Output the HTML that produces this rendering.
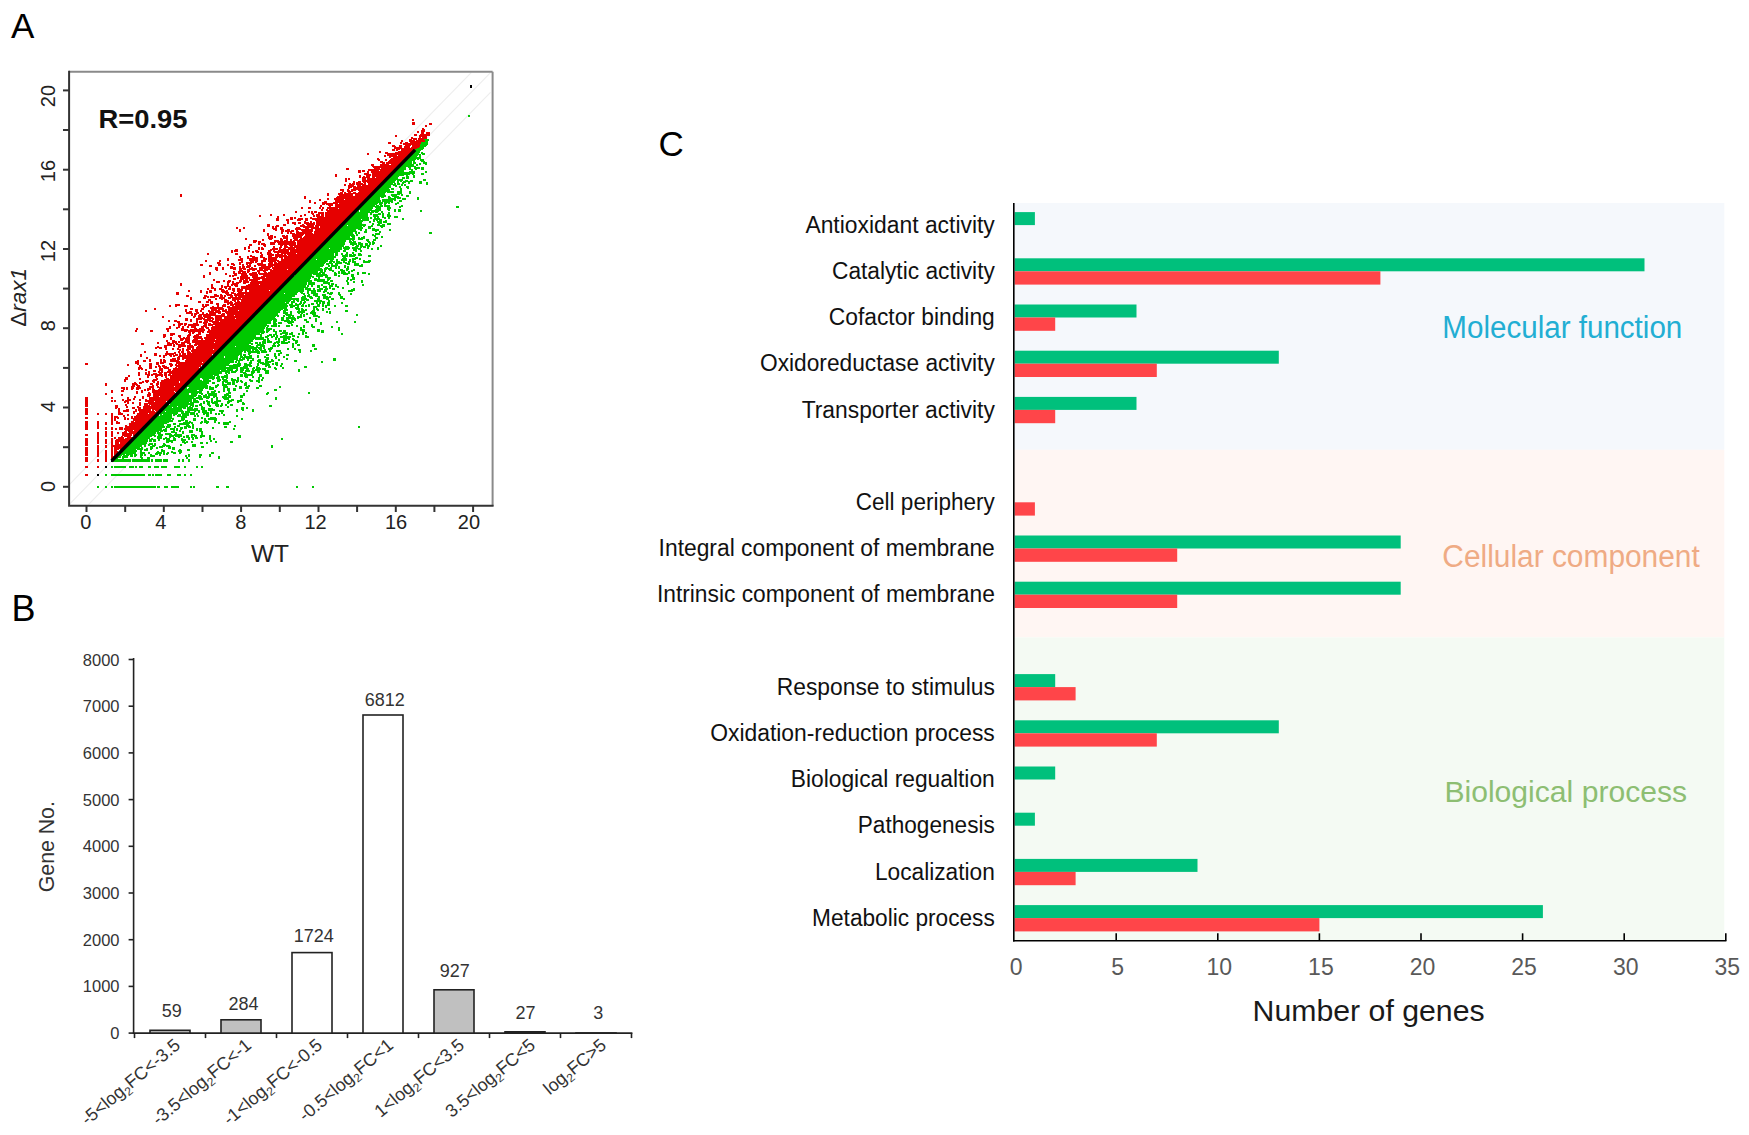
<!DOCTYPE html>
<html><head><meta charset="utf-8"><title>Figure</title>
<style>html,body{margin:0;padding:0;background:#fff;} svg{display:block;font-family:"Liberation Sans", Arial, sans-serif;}</style>
</head><body>
<svg width="1749" height="1135" viewBox="0 0 1749 1135">
<rect width="1749" height="1135" fill="#fff"/>
<rect x="1013.8" y="203" width="710.5" height="246.8" fill="#F5F8FC"/>
<rect x="1013.8" y="449.8" width="710.5" height="187.6" fill="#FFF6F3"/>
<rect x="1013.8" y="637.4" width="710.5" height="303.4" fill="#F4FAF3"/>
<rect x="1014.6" y="212.1" width="20.3" height="13.0" fill="#00C07C"/>
<text x="805.4" y="232.8" font-size="23" textLength="189.4" lengthAdjust="spacingAndGlyphs" fill="#111">Antioxidant activity</text>
<rect x="1014.6" y="258.3" width="629.9" height="13.0" fill="#00C07C"/>
<rect x="1014.6" y="271.3" width="365.8" height="13.3" fill="#FF4549"/>
<text x="832.0" y="279.0" font-size="23" textLength="162.8" lengthAdjust="spacingAndGlyphs" fill="#111">Catalytic activity</text>
<rect x="1014.6" y="304.5" width="121.9" height="13.0" fill="#00C07C"/>
<rect x="1014.6" y="317.5" width="40.6" height="13.3" fill="#FF4549"/>
<text x="828.8" y="325.2" font-size="23" textLength="166.0" lengthAdjust="spacingAndGlyphs" fill="#111">Cofactor binding</text>
<rect x="1014.6" y="350.7" width="264.2" height="13.0" fill="#00C07C"/>
<rect x="1014.6" y="363.7" width="142.2" height="13.3" fill="#FF4549"/>
<text x="760.0" y="371.4" font-size="23" textLength="234.8" lengthAdjust="spacingAndGlyphs" fill="#111">Oxidoreductase activity</text>
<rect x="1014.6" y="396.9" width="121.9" height="13.0" fill="#00C07C"/>
<rect x="1014.6" y="409.9" width="40.6" height="13.3" fill="#FF4549"/>
<text x="801.7" y="417.6" font-size="23" textLength="193.1" lengthAdjust="spacingAndGlyphs" fill="#111">Transporter activity</text>
<rect x="1014.6" y="502.3" width="20.3" height="13.3" fill="#FF4549"/>
<text x="855.8" y="510.0" font-size="23" textLength="139.0" lengthAdjust="spacingAndGlyphs" fill="#111">Cell periphery</text>
<rect x="1014.6" y="535.5" width="386.1" height="13.0" fill="#00C07C"/>
<rect x="1014.6" y="548.5" width="162.6" height="13.3" fill="#FF4549"/>
<text x="658.6" y="556.2" font-size="23" textLength="336.2" lengthAdjust="spacingAndGlyphs" fill="#111">Integral component of membrane</text>
<rect x="1014.6" y="581.7" width="386.1" height="13.0" fill="#00C07C"/>
<rect x="1014.6" y="594.7" width="162.6" height="13.3" fill="#FF4549"/>
<text x="656.9" y="602.4" font-size="23" textLength="337.9" lengthAdjust="spacingAndGlyphs" fill="#111">Intrinsic component of membrane</text>
<rect x="1014.6" y="674.1" width="40.6" height="13.0" fill="#00C07C"/>
<rect x="1014.6" y="687.1" width="61.0" height="13.3" fill="#FF4549"/>
<text x="776.8" y="694.8" font-size="23" textLength="218.0" lengthAdjust="spacingAndGlyphs" fill="#111">Response to stimulus</text>
<rect x="1014.6" y="720.3" width="264.2" height="13.0" fill="#00C07C"/>
<rect x="1014.6" y="733.3" width="142.2" height="13.3" fill="#FF4549"/>
<text x="710.2" y="741.0" font-size="23" textLength="284.6" lengthAdjust="spacingAndGlyphs" fill="#111">Oxidation-reduction process</text>
<rect x="1014.6" y="766.5" width="40.6" height="13.0" fill="#00C07C"/>
<text x="790.7" y="787.2" font-size="23" textLength="204.1" lengthAdjust="spacingAndGlyphs" fill="#111">Biological regualtion</text>
<rect x="1014.6" y="812.7" width="20.3" height="13.0" fill="#00C07C"/>
<text x="857.8" y="833.4" font-size="23" textLength="137.0" lengthAdjust="spacingAndGlyphs" fill="#111">Pathogenesis</text>
<rect x="1014.6" y="858.9" width="182.9" height="13.0" fill="#00C07C"/>
<rect x="1014.6" y="871.9" width="61.0" height="13.3" fill="#FF4549"/>
<text x="875.0" y="879.6" font-size="23" textLength="119.8" lengthAdjust="spacingAndGlyphs" fill="#111">Localization</text>
<rect x="1014.6" y="905.1" width="528.3" height="13.0" fill="#00C07C"/>
<rect x="1014.6" y="918.1" width="304.8" height="13.3" fill="#FF4549"/>
<text x="812.1" y="925.8" font-size="23" textLength="182.7" lengthAdjust="spacingAndGlyphs" fill="#111">Metabolic process</text>
<line x1="1013.8" y1="203" x2="1013.8" y2="941.5999999999999" stroke="#000" stroke-width="1.6"/>
<line x1="1013.0" y1="940.8" x2="1726.4" y2="940.8" stroke="#000" stroke-width="1.6"/>
<text x="1016.1" y="975" font-size="23" text-anchor="middle" fill="#595959">0</text>
<line x1="1116.2" y1="940.8" x2="1116.2" y2="933.3" stroke="#000" stroke-width="1.6"/>
<text x="1117.7" y="975" font-size="23" text-anchor="middle" fill="#595959">5</text>
<line x1="1217.8" y1="940.8" x2="1217.8" y2="933.3" stroke="#000" stroke-width="1.6"/>
<text x="1219.3" y="975" font-size="23" text-anchor="middle" fill="#595959">10</text>
<line x1="1319.4" y1="940.8" x2="1319.4" y2="933.3" stroke="#000" stroke-width="1.6"/>
<text x="1320.9" y="975" font-size="23" text-anchor="middle" fill="#595959">15</text>
<line x1="1421.0" y1="940.8" x2="1421.0" y2="933.3" stroke="#000" stroke-width="1.6"/>
<text x="1422.5" y="975" font-size="23" text-anchor="middle" fill="#595959">20</text>
<line x1="1522.6" y1="940.8" x2="1522.6" y2="933.3" stroke="#000" stroke-width="1.6"/>
<text x="1524.1" y="975" font-size="23" text-anchor="middle" fill="#595959">25</text>
<line x1="1624.2" y1="940.8" x2="1624.2" y2="933.3" stroke="#000" stroke-width="1.6"/>
<text x="1625.7" y="975" font-size="23" text-anchor="middle" fill="#595959">30</text>
<line x1="1725.8" y1="940.8" x2="1725.8" y2="933.3" stroke="#000" stroke-width="1.6"/>
<text x="1727.3" y="975" font-size="23" text-anchor="middle" fill="#595959">35</text>
<text x="1252.6" y="1021" font-size="29.5" textLength="232" lengthAdjust="spacingAndGlyphs" fill="#1a1a1a">Number of genes</text>
<text x="1442.3" y="337.6" font-size="31" textLength="240" lengthAdjust="spacingAndGlyphs" fill="#22AED3">Molecular function</text>
<text x="1442.3" y="567.2" font-size="31" textLength="257.5" lengthAdjust="spacingAndGlyphs" fill="#EFAB84">Cellular component</text>
<text x="1444.4" y="802.4" font-size="30" textLength="242.7" lengthAdjust="spacingAndGlyphs" fill="#8DBE72">Biological process</text>
<text x="658.5" y="156.4" font-size="35" fill="#000">C</text>
<text x="11.5" y="621.3" font-size="36" fill="#000">B</text>
<line x1="133.6" y1="658" x2="133.6" y2="1033.8999999999999" stroke="#222" stroke-width="1.6"/>
<line x1="132.79999999999998" y1="1033.1" x2="632.4" y2="1033.1" stroke="#222" stroke-width="1.6"/>
<line x1="128.6" y1="1033.1" x2="133.6" y2="1033.1" stroke="#222" stroke-width="1.6"/>
<text x="119.5" y="1039.1" font-size="16.5" text-anchor="end" fill="#333">0</text>
<line x1="128.6" y1="986.4" x2="133.6" y2="986.4" stroke="#222" stroke-width="1.6"/>
<text x="119.5" y="992.4" font-size="16.5" text-anchor="end" fill="#333">1000</text>
<line x1="128.6" y1="939.7" x2="133.6" y2="939.7" stroke="#222" stroke-width="1.6"/>
<text x="119.5" y="945.7" font-size="16.5" text-anchor="end" fill="#333">2000</text>
<line x1="128.6" y1="893.0" x2="133.6" y2="893.0" stroke="#222" stroke-width="1.6"/>
<text x="119.5" y="899.0" font-size="16.5" text-anchor="end" fill="#333">3000</text>
<line x1="128.6" y1="846.3" x2="133.6" y2="846.3" stroke="#222" stroke-width="1.6"/>
<text x="119.5" y="852.3" font-size="16.5" text-anchor="end" fill="#333">4000</text>
<line x1="128.6" y1="799.6" x2="133.6" y2="799.6" stroke="#222" stroke-width="1.6"/>
<text x="119.5" y="805.6" font-size="16.5" text-anchor="end" fill="#333">5000</text>
<line x1="128.6" y1="752.9" x2="133.6" y2="752.9" stroke="#222" stroke-width="1.6"/>
<text x="119.5" y="758.9" font-size="16.5" text-anchor="end" fill="#333">6000</text>
<line x1="128.6" y1="706.2" x2="133.6" y2="706.2" stroke="#222" stroke-width="1.6"/>
<text x="119.5" y="712.2" font-size="16.5" text-anchor="end" fill="#333">7000</text>
<line x1="128.6" y1="659.5" x2="133.6" y2="659.5" stroke="#222" stroke-width="1.6"/>
<text x="119.5" y="665.5" font-size="16.5" text-anchor="end" fill="#333">8000</text>
<line x1="134.5" y1="1033.1" x2="134.5" y2="1038.1" stroke="#222" stroke-width="1.6"/>
<line x1="205.5" y1="1033.1" x2="205.5" y2="1038.1" stroke="#222" stroke-width="1.6"/>
<line x1="276.5" y1="1033.1" x2="276.5" y2="1038.1" stroke="#222" stroke-width="1.6"/>
<line x1="347.5" y1="1033.1" x2="347.5" y2="1038.1" stroke="#222" stroke-width="1.6"/>
<line x1="418.5" y1="1033.1" x2="418.5" y2="1038.1" stroke="#222" stroke-width="1.6"/>
<line x1="489.5" y1="1033.1" x2="489.5" y2="1038.1" stroke="#222" stroke-width="1.6"/>
<line x1="560.5" y1="1033.1" x2="560.5" y2="1038.1" stroke="#222" stroke-width="1.6"/>
<line x1="631.5" y1="1033.1" x2="631.5" y2="1038.1" stroke="#222" stroke-width="1.6"/>
<rect x="150.0" y="1030.3" width="40" height="2.8" fill="#C0C0C0" stroke="#222" stroke-width="1.6"/>
<text x="171.8" y="1016.8" font-size="18" text-anchor="middle" fill="#333">59</text>
<text transform="translate(181.5,1047.1) rotate(-40)" font-size="18" text-anchor="end" fill="#333">-5&lt;log<tspan font-size='12' dy='4'>2</tspan><tspan dy='-4'>FC&lt;-3.5</tspan></text>
<rect x="221.0" y="1019.8" width="40" height="13.3" fill="#C0C0C0" stroke="#222" stroke-width="1.6"/>
<text x="243.5" y="1009.7" font-size="18" text-anchor="middle" fill="#333">284</text>
<text transform="translate(252.5,1047.1) rotate(-40)" font-size="18" text-anchor="end" fill="#333">-3.5&lt;log<tspan font-size='12' dy='4'>2</tspan><tspan dy='-4'>FC&lt;-1</tspan></text>
<rect x="292.0" y="952.6" width="40" height="80.5" fill="#FFFFFF" stroke="#222" stroke-width="1.6"/>
<text x="313.7" y="942.3" font-size="18" text-anchor="middle" fill="#333">1724</text>
<text transform="translate(323.5,1047.1) rotate(-40)" font-size="18" text-anchor="end" fill="#333">-1&lt;log<tspan font-size='12' dy='4'>2</tspan><tspan dy='-4'>FC&lt;-0.5</tspan></text>
<rect x="363.0" y="715.0" width="40" height="318.1" fill="#FFFFFF" stroke="#222" stroke-width="1.6"/>
<text x="384.7" y="705.6" font-size="18" text-anchor="middle" fill="#333">6812</text>
<text transform="translate(394.5,1047.1) rotate(-40)" font-size="18" text-anchor="end" fill="#333">-0.5&lt;log<tspan font-size='12' dy='4'>2</tspan><tspan dy='-4'>FC&lt;1</tspan></text>
<rect x="434.0" y="989.8" width="40" height="43.3" fill="#C0C0C0" stroke="#222" stroke-width="1.6"/>
<text x="454.7" y="977.2" font-size="18" text-anchor="middle" fill="#333">927</text>
<text transform="translate(465.5,1047.1) rotate(-40)" font-size="18" text-anchor="end" fill="#333">1&lt;log<tspan font-size='12' dy='4'>2</tspan><tspan dy='-4'>FC&lt;3.5</tspan></text>
<rect x="505.0" y="1031.8" width="40" height="1.3" fill="#C0C0C0" stroke="#222" stroke-width="1.6"/>
<text x="525.6" y="1018.6" font-size="18" text-anchor="middle" fill="#333">27</text>
<text transform="translate(536.5,1047.1) rotate(-40)" font-size="18" text-anchor="end" fill="#333">3.5&lt;log<tspan font-size='12' dy='4'>2</tspan><tspan dy='-4'>FC&lt;5</tspan></text>
<rect x="576.0" y="1033.0" width="40" height="0.1" fill="#C0C0C0" stroke="#222" stroke-width="1.6"/>
<text x="598.2" y="1018.6" font-size="18" text-anchor="middle" fill="#333">3</text>
<text transform="translate(607.5,1047.1) rotate(-40)" font-size="18" text-anchor="end" fill="#333">log<tspan font-size='12' dy='4'>2</tspan><tspan dy='-4'>FC&gt;5</tspan></text>
<text transform="translate(54,846.7) rotate(-90)" font-size="21.3" text-anchor="middle" fill="#333">Gene No.</text>
<text x="11" y="38.3" font-size="35" fill="#000">A</text>
<line x1="88.4" y1="504.6" x2="490.5" y2="92.4" stroke="#eeeeee" stroke-width="1.2"/>
<line x1="69.1" y1="504.6" x2="490.5" y2="72.6" stroke="#eeeeee" stroke-width="1.2"/>
<line x1="69.1" y1="484.8" x2="471.2" y2="72.6" stroke="#eeeeee" stroke-width="1.2"/>
<path fill="#E60000" d="M412 119h2v1h-2zM412 120h2v1h-2zM412 122h3v1h-3zM412 123h3v1h-3zM429 123h3v1h-3zM412 124h3v1h-3zM429 124h3v1h-3zM425 125h2v1h-2zM425 126h2v1h-2zM422 128h2v1h-2zM422 129h3v1h-3zM421 130h4v1h-4zM417 131h2v1h-2zM421 131h4v1h-4zM417 132h2v1h-2zM421 132h3v1h-3zM426 132h4v1h-4zM421 133h3v1h-3zM426 133h4v1h-4zM414 134h3v1h-3zM420 134h10v1h-10zM395 135h2v1h-2zM414 135h3v1h-3zM419 135h11v1h-11zM395 136h2v1h-2zM419 136h8v1h-8zM411 137h2v1h-2zM419 137h2v1h-2zM422 137h5v1h-5zM411 138h6v1h-6zM418 138h9v1h-9zM409 139h3v1h-3zM413 139h4v1h-4zM418 139h6v1h-6zM401 140h2v1h-2zM409 140h6v1h-6zM416 140h9v1h-9zM401 141h2v1h-2zM409 141h16v1h-16zM388 142h3v1h-3zM400 142h2v1h-2zM405 142h3v1h-3zM410 142h11v1h-11zM388 143h3v1h-3zM400 143h2v1h-2zM403 143h18v1h-18zM403 144h17v1h-17zM392 145h3v1h-3zM399 145h3v1h-3zM405 145h6v1h-6zM412 145h8v1h-8zM392 146h4v1h-4zM399 146h3v1h-3zM404 146h6v1h-6zM412 146h8v1h-8zM394 147h8v1h-8zM404 147h6v1h-6zM411 147h8v1h-8zM394 148h23v1h-23zM392 149h3v1h-3zM396 149h4v1h-4zM401 149h14v1h-14zM392 150h3v1h-3zM396 150h2v1h-2zM401 150h14v1h-14zM379 151h2v1h-2zM398 151h17v1h-17zM379 152h2v1h-2zM385 152h3v1h-3zM395 152h19v1h-19zM367 153h2v1h-2zM385 153h26v1h-26zM367 154h2v1h-2zM387 154h24v1h-24zM384 155h2v1h-2zM387 155h10v1h-10zM398 155h11v1h-11zM384 156h2v1h-2zM389 156h19v1h-19zM389 157h2v1h-2zM393 157h15v1h-15zM377 158h2v1h-2zM391 158h15v1h-15zM377 159h3v1h-3zM385 159h2v1h-2zM390 159h15v1h-15zM378 160h2v1h-2zM385 160h2v1h-2zM389 160h16v1h-16zM380 161h3v1h-3zM388 161h15v1h-15zM380 162h5v1h-5zM386 162h17v1h-17zM382 163h3v1h-3zM386 163h17v1h-17zM371 164h3v1h-3zM380 164h9v1h-9zM391 164h10v1h-10zM371 165h3v1h-3zM380 165h20v1h-20zM372 166h26v1h-26zM373 167h25v1h-25zM346 168h3v1h-3zM374 168h6v1h-6zM381 168h17v1h-17zM346 169h3v1h-3zM368 169h29v1h-29zM358 170h3v1h-3zM362 170h3v1h-3zM368 170h11v1h-11zM380 170h15v1h-15zM358 171h3v1h-3zM362 171h3v1h-3zM367 171h2v1h-2zM371 171h22v1h-22zM358 172h3v1h-3zM367 172h2v1h-2zM371 172h22v1h-22zM364 173h5v1h-5zM372 173h20v1h-20zM335 174h2v1h-2zM364 174h7v1h-7zM372 174h20v1h-20zM335 175h2v1h-2zM359 175h2v1h-2zM366 175h5v1h-5zM372 175h19v1h-19zM335 176h2v1h-2zM359 176h2v1h-2zM363 176h2v1h-2zM366 176h4v1h-4zM372 176h19v1h-19zM359 177h2v1h-2zM362 177h8v1h-8zM372 177h3v1h-3zM376 177h13v1h-13zM345 178h2v1h-2zM348 178h2v1h-2zM362 178h4v1h-4zM367 178h20v1h-20zM345 179h2v1h-2zM348 179h2v1h-2zM362 179h4v1h-4zM367 179h19v1h-19zM345 180h2v1h-2zM362 180h24v1h-24zM345 181h2v1h-2zM353 181h2v1h-2zM358 181h3v1h-3zM362 181h23v1h-23zM353 182h2v1h-2zM356 182h5v1h-5zM363 182h3v1h-3zM367 182h18v1h-18zM349 183h2v1h-2zM352 183h3v1h-3zM356 183h7v1h-7zM364 183h2v1h-2zM368 183h14v1h-14zM344 184h2v1h-2zM349 184h6v1h-6zM356 184h10v1h-10zM368 184h13v1h-13zM344 185h2v1h-2zM348 185h6v1h-6zM357 185h4v1h-4zM362 185h18v1h-18zM348 186h8v1h-8zM357 186h23v1h-23zM348 187h4v1h-4zM353 187h27v1h-27zM348 188h2v1h-2zM353 188h24v1h-24zM340 189h4v1h-4zM347 189h2v1h-2zM351 189h25v1h-25zM340 190h4v1h-4zM347 190h3v1h-3zM351 190h5v1h-5zM358 190h18v1h-18zM342 191h2v1h-2zM347 191h6v1h-6zM359 191h16v1h-16zM340 192h3v1h-3zM344 192h2v1h-2zM348 192h3v1h-3zM353 192h3v1h-3zM358 192h17v1h-17zM327 193h2v1h-2zM338 193h5v1h-5zM344 193h29v1h-29zM180 194h2v1h-2zM327 194h2v1h-2zM338 194h15v1h-15zM355 194h17v1h-17zM180 195h2v1h-2zM327 195h2v1h-2zM339 195h14v1h-14zM355 195h16v1h-16zM180 196h2v1h-2zM304 196h2v1h-2zM337 196h33v1h-33zM304 197h2v1h-2zM336 197h34v1h-34zM304 198h2v1h-2zM327 198h2v1h-2zM334 198h34v1h-34zM319 199h2v1h-2zM327 199h2v1h-2zM334 199h10v1h-10zM345 199h21v1h-21zM309 200h2v1h-2zM319 200h2v1h-2zM335 200h31v1h-31zM309 201h2v1h-2zM324 201h3v1h-3zM335 201h31v1h-31zM309 202h2v1h-2zM314 202h2v1h-2zM322 202h5v1h-5zM333 202h30v1h-30zM314 203h2v1h-2zM322 203h16v1h-16zM339 203h24v1h-24zM322 204h3v1h-3zM326 204h7v1h-7zM335 204h28v1h-28zM320 205h2v1h-2zM328 205h5v1h-5zM335 205h25v1h-25zM320 206h2v1h-2zM329 206h2v1h-2zM335 206h25v1h-25zM301 207h2v1h-2zM308 207h3v1h-3zM319 207h2v1h-2zM322 207h2v1h-2zM327 207h31v1h-31zM301 208h2v1h-2zM308 208h3v1h-3zM319 208h2v1h-2zM322 208h2v1h-2zM327 208h11v1h-11zM339 208h19v1h-19zM321 209h2v1h-2zM326 209h2v1h-2zM329 209h28v1h-28zM321 210h2v1h-2zM326 210h30v1h-30zM295 211h2v1h-2zM308 211h2v1h-2zM311 211h2v1h-2zM314 211h3v1h-3zM327 211h28v1h-28zM295 212h2v1h-2zM308 212h2v1h-2zM311 212h2v1h-2zM314 212h3v1h-3zM318 212h6v1h-6zM325 212h30v1h-30zM311 213h3v1h-3zM318 213h6v1h-6zM325 213h29v1h-29zM270 214h2v1h-2zM283 214h2v1h-2zM304 214h2v1h-2zM312 214h2v1h-2zM316 214h4v1h-4zM321 214h3v1h-3zM325 214h27v1h-27zM259 215h2v1h-2zM270 215h2v1h-2zM283 215h2v1h-2zM300 215h2v1h-2zM304 215h2v1h-2zM313 215h2v1h-2zM316 215h4v1h-4zM321 215h3v1h-3zM325 215h27v1h-27zM259 216h2v1h-2zM277 216h2v1h-2zM300 216h2v1h-2zM313 216h2v1h-2zM316 216h8v1h-8zM325 216h24v1h-24zM277 217h2v1h-2zM290 217h3v1h-3zM294 217h2v1h-2zM310 217h2v1h-2zM317 217h32v1h-32zM276 218h3v1h-3zM290 218h3v1h-3zM294 218h2v1h-2zM298 218h5v1h-5zM305 218h3v1h-3zM310 218h39v1h-39zM276 219h3v1h-3zM286 219h3v1h-3zM290 219h3v1h-3zM297 219h6v1h-6zM305 219h3v1h-3zM312 219h37v1h-37zM276 220h3v1h-3zM286 220h3v1h-3zM297 220h4v1h-4zM305 220h3v1h-3zM315 220h32v1h-32zM287 221h2v1h-2zM304 221h2v1h-2zM310 221h2v1h-2zM316 221h31v1h-31zM287 222h2v1h-2zM292 222h4v1h-4zM298 222h3v1h-3zM304 222h5v1h-5zM310 222h2v1h-2zM313 222h2v1h-2zM316 222h28v1h-28zM287 223h2v1h-2zM292 223h4v1h-4zM298 223h3v1h-3zM304 223h11v1h-11zM316 223h28v1h-28zM267 224h3v1h-3zM283 224h3v1h-3zM294 224h2v1h-2zM302 224h2v1h-2zM306 224h9v1h-9zM316 224h27v1h-27zM267 225h3v1h-3zM276 225h3v1h-3zM283 225h3v1h-3zM300 225h5v1h-5zM307 225h7v1h-7zM315 225h27v1h-27zM267 226h3v1h-3zM272 226h2v1h-2zM275 226h4v1h-4zM300 226h14v1h-14zM315 226h4v1h-4zM320 226h21v1h-21zM236 227h2v1h-2zM243 227h2v1h-2zM272 227h2v1h-2zM275 227h2v1h-2zM280 227h3v1h-3zM296 227h4v1h-4zM303 227h16v1h-16zM320 227h19v1h-19zM236 228h2v1h-2zM243 228h2v1h-2zM272 228h5v1h-5zM280 228h3v1h-3zM295 228h6v1h-6zM305 228h4v1h-4zM311 228h29v1h-29zM239 229h2v1h-2zM263 229h2v1h-2zM273 229h4v1h-4zM280 229h4v1h-4zM287 229h3v1h-3zM295 229h18v1h-18zM315 229h23v1h-23zM239 230h2v1h-2zM263 230h2v1h-2zM275 230h2v1h-2zM281 230h3v1h-3zM285 230h5v1h-5zM291 230h3v1h-3zM296 230h2v1h-2zM301 230h12v1h-12zM315 230h23v1h-23zM239 231h2v1h-2zM263 231h2v1h-2zM281 231h3v1h-3zM285 231h9v1h-9zM296 231h3v1h-3zM302 231h11v1h-11zM314 231h22v1h-22zM281 232h2v1h-2zM287 232h2v1h-2zM290 232h2v1h-2zM296 232h16v1h-16zM314 232h22v1h-22zM267 233h2v1h-2zM281 233h2v1h-2zM287 233h2v1h-2zM290 233h5v1h-5zM296 233h17v1h-17zM314 233h20v1h-20zM267 234h2v1h-2zM292 234h12v1h-12zM305 234h27v1h-27zM267 235h2v1h-2zM270 235h3v1h-3zM282 235h3v1h-3zM286 235h2v1h-2zM292 235h11v1h-11zM305 235h27v1h-27zM268 236h5v1h-5zM274 236h2v1h-2zM282 236h6v1h-6zM292 236h10v1h-10zM304 236h27v1h-27zM268 237h5v1h-5zM274 237h2v1h-2zM283 237h5v1h-5zM293 237h9v1h-9zM303 237h28v1h-28zM245 238h2v1h-2zM268 238h5v1h-5zM280 238h2v1h-2zM283 238h5v1h-5zM293 238h5v1h-5zM300 238h29v1h-29zM245 239h2v1h-2zM262 239h2v1h-2zM269 239h3v1h-3zM280 239h3v1h-3zM286 239h2v1h-2zM290 239h2v1h-2zM294 239h4v1h-4zM299 239h29v1h-29zM253 240h4v1h-4zM262 240h2v1h-2zM274 240h5v1h-5zM280 240h3v1h-3zM284 240h4v1h-4zM290 240h2v1h-2zM293 240h34v1h-34zM253 241h4v1h-4zM258 241h3v1h-3zM274 241h21v1h-21zM297 241h30v1h-30zM253 242h3v1h-3zM258 242h3v1h-3zM270 242h6v1h-6zM277 242h19v1h-19zM297 242h29v1h-29zM258 243h2v1h-2zM261 243h4v1h-4zM270 243h5v1h-5zM278 243h18v1h-18zM297 243h27v1h-27zM249 244h3v1h-3zM258 244h2v1h-2zM261 244h5v1h-5zM270 244h5v1h-5zM278 244h18v1h-18zM297 244h27v1h-27zM249 245h3v1h-3zM263 245h3v1h-3zM280 245h3v1h-3zM284 245h3v1h-3zM289 245h31v1h-31zM248 246h2v1h-2zM264 246h2v1h-2zM273 246h2v1h-2zM280 246h2v1h-2zM284 246h4v1h-4zM290 246h3v1h-3zM294 246h26v1h-26zM244 247h2v1h-2zM248 247h2v1h-2zM258 247h2v1h-2zM261 247h2v1h-2zM273 247h2v1h-2zM279 247h3v1h-3zM284 247h35v1h-35zM244 248h2v1h-2zM248 248h2v1h-2zM258 248h2v1h-2zM261 248h3v1h-3zM272 248h6v1h-6zM279 248h2v1h-2zM283 248h3v1h-3zM288 248h7v1h-7zM296 248h22v1h-22zM235 249h3v1h-3zM244 249h2v1h-2zM258 249h2v1h-2zM261 249h3v1h-3zM270 249h8v1h-8zM279 249h39v1h-39zM231 250h2v1h-2zM234 250h4v1h-4zM248 250h2v1h-2zM255 250h3v1h-3zM268 250h4v1h-4zM273 250h2v1h-2zM278 250h11v1h-11zM290 250h28v1h-28zM231 251h2v1h-2zM234 251h4v1h-4zM248 251h2v1h-2zM252 251h2v1h-2zM255 251h4v1h-4zM268 251h3v1h-3zM273 251h16v1h-16zM290 251h25v1h-25zM231 252h2v1h-2zM252 252h2v1h-2zM256 252h3v1h-3zM260 252h2v1h-2zM267 252h4v1h-4zM274 252h40v1h-40zM207 253h2v1h-2zM235 253h3v1h-3zM260 253h2v1h-2zM267 253h5v1h-5zM277 253h2v1h-2zM281 253h15v1h-15zM297 253h17v1h-17zM207 254h2v1h-2zM235 254h3v1h-3zM261 254h2v1h-2zM267 254h7v1h-7zM275 254h8v1h-8zM284 254h2v1h-2zM287 254h25v1h-25zM250 255h2v1h-2zM260 255h3v1h-3zM268 255h6v1h-6zM275 255h12v1h-12zM288 255h24v1h-24zM239 256h2v1h-2zM247 256h2v1h-2zM250 256h5v1h-5zM260 256h3v1h-3zM268 256h4v1h-4zM275 256h36v1h-36zM239 257h2v1h-2zM247 257h2v1h-2zM252 257h6v1h-6zM260 257h5v1h-5zM268 257h10v1h-10zM279 257h4v1h-4zM284 257h27v1h-27zM227 258h2v1h-2zM240 258h3v1h-3zM247 258h11v1h-11zM263 258h4v1h-4zM268 258h9v1h-9zM281 258h2v1h-2zM284 258h26v1h-26zM227 259h2v1h-2zM238 259h5v1h-5zM249 259h9v1h-9zM263 259h4v1h-4zM268 259h9v1h-9zM281 259h29v1h-29zM205 260h2v1h-2zM219 260h2v1h-2zM227 260h2v1h-2zM238 260h5v1h-5zM249 260h9v1h-9zM261 260h5v1h-5zM268 260h11v1h-11zM281 260h27v1h-27zM205 261h2v1h-2zM219 261h2v1h-2zM241 261h2v1h-2zM250 261h4v1h-4zM255 261h3v1h-3zM261 261h5v1h-5zM268 261h8v1h-8zM277 261h29v1h-29zM217 262h3v1h-3zM239 262h4v1h-4zM246 262h8v1h-8zM255 262h2v1h-2zM261 262h2v1h-2zM269 262h4v1h-4zM274 262h3v1h-3zM278 262h27v1h-27zM217 263h4v1h-4zM231 263h3v1h-3zM239 263h2v1h-2zM246 263h6v1h-6zM257 263h6v1h-6zM268 263h5v1h-5zM274 263h31v1h-31zM200 264h3v1h-3zM218 264h3v1h-3zM227 264h2v1h-2zM231 264h4v1h-4zM239 264h2v1h-2zM242 264h2v1h-2zM246 264h2v1h-2zM249 264h2v1h-2zM257 264h9v1h-9zM268 264h35v1h-35zM200 265h3v1h-3zM209 265h3v1h-3zM218 265h3v1h-3zM227 265h2v1h-2zM233 265h2v1h-2zM242 265h2v1h-2zM247 265h4v1h-4zM254 265h2v1h-2zM258 265h8v1h-8zM268 265h35v1h-35zM209 266h3v1h-3zM230 266h3v1h-3zM239 266h2v1h-2zM242 266h3v1h-3zM246 266h5v1h-5zM254 266h2v1h-2zM261 266h12v1h-12zM274 266h27v1h-27zM215 267h3v1h-3zM222 267h2v1h-2zM230 267h6v1h-6zM239 267h2v1h-2zM242 267h3v1h-3zM246 267h4v1h-4zM251 267h2v1h-2zM259 267h12v1h-12zM272 267h28v1h-28zM215 268h3v1h-3zM222 268h2v1h-2zM230 268h6v1h-6zM239 268h7v1h-7zM249 268h8v1h-8zM259 268h11v1h-11zM272 268h28v1h-28zM215 269h3v1h-3zM222 269h2v1h-2zM233 269h3v1h-3zM239 269h3v1h-3zM243 269h3v1h-3zM247 269h10v1h-10zM259 269h4v1h-4zM264 269h8v1h-8zM273 269h14v1h-14zM288 269h12v1h-12zM216 270h2v1h-2zM239 270h4v1h-4zM247 270h3v1h-3zM252 270h3v1h-3zM257 270h11v1h-11zM270 270h26v1h-26zM233 271h2v1h-2zM238 271h8v1h-8zM247 271h3v1h-3zM257 271h3v1h-3zM263 271h3v1h-3zM270 271h26v1h-26zM209 272h2v1h-2zM233 272h2v1h-2zM238 272h3v1h-3zM242 272h4v1h-4zM247 272h2v1h-2zM252 272h5v1h-5zM258 272h2v1h-2zM264 272h3v1h-3zM268 272h27v1h-27zM209 273h2v1h-2zM225 273h2v1h-2zM233 273h4v1h-4zM238 273h9v1h-9zM249 273h8v1h-8zM258 273h37v1h-37zM209 274h2v1h-2zM225 274h2v1h-2zM234 274h3v1h-3zM241 274h6v1h-6zM249 274h9v1h-9zM259 274h34v1h-34zM203 275h2v1h-2zM229 275h2v1h-2zM232 275h5v1h-5zM241 275h7v1h-7zM250 275h8v1h-8zM263 275h28v1h-28zM203 276h2v1h-2zM229 276h2v1h-2zM232 276h2v1h-2zM240 276h8v1h-8zM252 276h6v1h-6zM261 276h29v1h-29zM203 277h2v1h-2zM237 277h2v1h-2zM240 277h10v1h-10zM252 277h13v1h-13zM266 277h24v1h-24zM233 278h3v1h-3zM237 278h2v1h-2zM240 278h10v1h-10zM253 278h37v1h-37zM213 279h2v1h-2zM233 279h3v1h-3zM240 279h4v1h-4zM245 279h3v1h-3zM249 279h11v1h-11zM262 279h27v1h-27zM213 280h2v1h-2zM223 280h2v1h-2zM228 280h3v1h-3zM239 280h3v1h-3zM243 280h5v1h-5zM249 280h9v1h-9zM262 280h24v1h-24zM216 281h4v1h-4zM223 281h2v1h-2zM227 281h4v1h-4zM232 281h2v1h-2zM239 281h3v1h-3zM243 281h6v1h-6zM251 281h35v1h-35zM216 282h4v1h-4zM227 282h3v1h-3zM232 282h2v1h-2zM236 282h5v1h-5zM243 282h6v1h-6zM250 282h36v1h-36zM180 283h2v1h-2zM227 283h2v1h-2zM232 283h7v1h-7zM243 283h3v1h-3zM250 283h36v1h-36zM180 284h2v1h-2zM211 284h2v1h-2zM227 284h2v1h-2zM231 284h7v1h-7zM248 284h11v1h-11zM260 284h24v1h-24zM180 285h2v1h-2zM211 285h2v1h-2zM221 285h2v1h-2zM227 285h2v1h-2zM231 285h2v1h-2zM234 285h4v1h-4zM246 285h36v1h-36zM211 286h2v1h-2zM221 286h2v1h-2zM224 286h7v1h-7zM235 286h3v1h-3zM241 286h42v1h-42zM211 287h3v1h-3zM221 287h2v1h-2zM224 287h3v1h-3zM229 287h2v1h-2zM241 287h40v1h-40zM207 288h2v1h-2zM211 288h5v1h-5zM219 288h3v1h-3zM225 288h2v1h-2zM228 288h3v1h-3zM232 288h3v1h-3zM237 288h3v1h-3zM241 288h37v1h-37zM207 289h2v1h-2zM214 289h2v1h-2zM219 289h5v1h-5zM228 289h3v1h-3zM232 289h3v1h-3zM237 289h6v1h-6zM245 289h33v1h-33zM188 290h2v1h-2zM200 290h2v1h-2zM209 290h3v1h-3zM214 290h2v1h-2zM221 290h4v1h-4zM226 290h2v1h-2zM232 290h3v1h-3zM237 290h6v1h-6zM245 290h2v1h-2zM249 290h20v1h-20zM270 290h8v1h-8zM188 291h2v1h-2zM200 291h2v1h-2zM206 291h2v1h-2zM209 291h3v1h-3zM221 291h7v1h-7zM233 291h2v1h-2zM237 291h5v1h-5zM245 291h2v1h-2zM249 291h28v1h-28zM176 292h3v1h-3zM200 292h2v1h-2zM206 292h2v1h-2zM209 292h3v1h-3zM222 292h7v1h-7zM231 292h3v1h-3zM238 292h39v1h-39zM176 293h3v1h-3zM206 293h2v1h-2zM225 293h4v1h-4zM231 293h5v1h-5zM237 293h39v1h-39zM176 294h3v1h-3zM214 294h3v1h-3zM220 294h2v1h-2zM226 294h6v1h-6zM234 294h10v1h-10zM245 294h28v1h-28zM186 295h3v1h-3zM204 295h3v1h-3zM214 295h5v1h-5zM220 295h3v1h-3zM224 295h2v1h-2zM227 295h6v1h-6zM234 295h39v1h-39zM186 296h3v1h-3zM204 296h5v1h-5zM210 296h9v1h-9zM220 296h3v1h-3zM224 296h2v1h-2zM230 296h3v1h-3zM235 296h2v1h-2zM238 296h34v1h-34zM273 296h1v1h-1zM190 297h2v1h-2zM203 297h3v1h-3zM207 297h2v1h-2zM210 297h5v1h-5zM219 297h6v1h-6zM228 297h44v1h-44zM190 298h2v1h-2zM203 298h3v1h-3zM215 298h2v1h-2zM219 298h6v1h-6zM228 298h3v1h-3zM232 298h9v1h-9zM242 298h28v1h-28zM190 299h2v1h-2zM208 299h3v1h-3zM215 299h2v1h-2zM221 299h2v1h-2zM224 299h3v1h-3zM232 299h37v1h-37zM208 300h3v1h-3zM224 300h5v1h-5zM232 300h4v1h-4zM237 300h2v1h-2zM241 300h26v1h-26zM198 301h3v1h-3zM206 301h3v1h-3zM210 301h3v1h-3zM224 301h5v1h-5zM230 301h2v1h-2zM234 301h2v1h-2zM237 301h3v1h-3zM241 301h26v1h-26zM198 302h3v1h-3zM206 302h3v1h-3zM210 302h3v1h-3zM224 302h9v1h-9zM235 302h31v1h-31zM210 303h3v1h-3zM216 303h3v1h-3zM227 303h6v1h-6zM234 303h32v1h-32zM175 304h5v1h-5zM202 304h2v1h-2zM205 304h4v1h-4zM216 304h3v1h-3zM223 304h3v1h-3zM227 304h2v1h-2zM230 304h34v1h-34zM169 305h2v1h-2zM175 305h5v1h-5zM184 305h4v1h-4zM202 305h2v1h-2zM205 305h4v1h-4zM217 305h2v1h-2zM222 305h4v1h-4zM230 305h4v1h-4zM235 305h29v1h-29zM169 306h2v1h-2zM175 306h2v1h-2zM184 306h4v1h-4zM202 306h5v1h-5zM212 306h2v1h-2zM217 306h2v1h-2zM222 306h4v1h-4zM227 306h3v1h-3zM232 306h31v1h-31zM203 307h2v1h-2zM210 307h13v1h-13zM227 307h35v1h-35zM154 308h2v1h-2zM190 308h3v1h-3zM201 308h3v1h-3zM210 308h14v1h-14zM228 308h32v1h-32zM154 309h2v1h-2zM185 309h2v1h-2zM190 309h3v1h-3zM195 309h3v1h-3zM201 309h3v1h-3zM211 309h6v1h-6zM218 309h6v1h-6zM225 309h2v1h-2zM228 309h31v1h-31zM145 310h2v1h-2zM185 310h2v1h-2zM195 310h3v1h-3zM200 310h2v1h-2zM208 310h2v1h-2zM211 310h9v1h-9zM222 310h5v1h-5zM228 310h10v1h-10zM239 310h20v1h-20zM145 311h2v1h-2zM185 311h2v1h-2zM189 311h3v1h-3zM195 311h3v1h-3zM200 311h2v1h-2zM208 311h6v1h-6zM215 311h6v1h-6zM222 311h37v1h-37zM186 312h6v1h-6zM196 312h3v1h-3zM202 312h2v1h-2zM209 312h12v1h-12zM225 312h31v1h-31zM186 313h7v1h-7zM194 313h5v1h-5zM202 313h2v1h-2zM206 313h2v1h-2zM209 313h7v1h-7zM218 313h3v1h-3zM222 313h3v1h-3zM226 313h29v1h-29zM191 314h2v1h-2zM194 314h3v1h-3zM199 314h17v1h-17zM221 314h4v1h-4zM227 314h28v1h-28zM179 315h2v1h-2zM191 315h2v1h-2zM194 315h2v1h-2zM198 315h4v1h-4zM203 315h22v1h-22zM227 315h7v1h-7zM235 315h20v1h-20zM162 316h2v1h-2zM179 316h2v1h-2zM193 316h3v1h-3zM198 316h4v1h-4zM203 316h8v1h-8zM215 316h38v1h-38zM162 317h2v1h-2zM193 317h2v1h-2zM198 317h5v1h-5zM204 317h9v1h-9zM215 317h7v1h-7zM224 317h28v1h-28zM185 318h3v1h-3zM196 318h9v1h-9zM207 318h7v1h-7zM215 318h7v1h-7zM224 318h11v1h-11zM236 318h15v1h-15zM185 319h3v1h-3zM190 319h2v1h-2zM196 319h6v1h-6zM203 319h8v1h-8zM212 319h2v1h-2zM215 319h35v1h-35zM168 320h2v1h-2zM174 320h3v1h-3zM185 320h3v1h-3zM190 320h2v1h-2zM196 320h2v1h-2zM204 320h9v1h-9zM215 320h33v1h-33zM168 321h2v1h-2zM174 321h6v1h-6zM190 321h2v1h-2zM196 321h2v1h-2zM199 321h3v1h-3zM204 321h4v1h-4zM209 321h10v1h-10zM220 321h28v1h-28zM177 322h3v1h-3zM196 322h2v1h-2zM199 322h3v1h-3zM203 322h5v1h-5zM212 322h34v1h-34zM178 323h5v1h-5zM184 323h3v1h-3zM193 323h5v1h-5zM203 323h4v1h-4zM208 323h3v1h-3zM213 323h34v1h-34zM173 324h2v1h-2zM178 324h5v1h-5zM184 324h3v1h-3zM188 324h11v1h-11zM204 324h3v1h-3zM208 324h36v1h-36zM173 325h2v1h-2zM178 325h3v1h-3zM184 325h2v1h-2zM188 325h11v1h-11zM203 325h4v1h-4zM208 325h5v1h-5zM215 325h28v1h-28zM169 326h2v1h-2zM178 326h2v1h-2zM182 326h2v1h-2zM187 326h2v1h-2zM191 326h5v1h-5zM201 326h6v1h-6zM212 326h31v1h-31zM169 327h2v1h-2zM176 327h4v1h-4zM182 327h2v1h-2zM187 327h2v1h-2zM191 327h5v1h-5zM201 327h3v1h-3zM205 327h4v1h-4zM211 327h31v1h-31zM136 328h2v1h-2zM166 328h5v1h-5zM176 328h2v1h-2zM181 328h3v1h-3zM194 328h3v1h-3zM199 328h5v1h-5zM206 328h3v1h-3zM211 328h31v1h-31zM136 329h2v1h-2zM166 329h3v1h-3zM181 329h7v1h-7zM190 329h15v1h-15zM208 329h2v1h-2zM211 329h30v1h-30zM135 330h2v1h-2zM150 330h3v1h-3zM167 330h2v1h-2zM181 330h24v1h-24zM208 330h32v1h-32zM135 331h2v1h-2zM150 331h3v1h-3zM167 331h2v1h-2zM184 331h3v1h-3zM188 331h16v1h-16zM207 331h33v1h-33zM188 332h3v1h-3zM192 332h3v1h-3zM198 332h3v1h-3zM202 332h2v1h-2zM207 332h30v1h-30zM170 333h5v1h-5zM189 333h2v1h-2zM192 333h2v1h-2zM198 333h3v1h-3zM209 333h28v1h-28zM163 334h3v1h-3zM170 334h5v1h-5zM188 334h3v1h-3zM196 334h5v1h-5zM206 334h29v1h-29zM163 335h3v1h-3zM170 335h3v1h-3zM178 335h3v1h-3zM187 335h4v1h-4zM194 335h5v1h-5zM206 335h28v1h-28zM163 336h3v1h-3zM178 336h3v1h-3zM187 336h3v1h-3zM193 336h9v1h-9zM206 336h26v1h-26zM163 337h2v1h-2zM170 337h2v1h-2zM179 337h2v1h-2zM183 337h2v1h-2zM186 337h4v1h-4zM193 337h9v1h-9zM204 337h28v1h-28zM170 338h2v1h-2zM180 338h10v1h-10zM194 338h9v1h-9zM204 338h28v1h-28zM170 339h2v1h-2zM180 339h4v1h-4zM185 339h5v1h-5zM193 339h5v1h-5zM201 339h2v1h-2zM205 339h10v1h-10zM216 339h15v1h-15zM166 340h2v1h-2zM172 340h3v1h-3zM180 340h3v1h-3zM185 340h5v1h-5zM192 340h38v1h-38zM166 341h2v1h-2zM172 341h5v1h-5zM178 341h2v1h-2zM184 341h6v1h-6zM192 341h35v1h-35zM157 342h2v1h-2zM167 342h3v1h-3zM172 342h5v1h-5zM178 342h2v1h-2zM181 342h9v1h-9zM192 342h22v1h-22zM215 342h11v1h-11zM141 343h3v1h-3zM157 343h2v1h-2zM167 343h7v1h-7zM175 343h3v1h-3zM181 343h4v1h-4zM187 343h4v1h-4zM195 343h31v1h-31zM141 344h3v1h-3zM167 344h5v1h-5zM173 344h2v1h-2zM176 344h9v1h-9zM189 344h2v1h-2zM194 344h31v1h-31zM164 345h8v1h-8zM173 345h2v1h-2zM178 345h8v1h-8zM187 345h6v1h-6zM194 345h3v1h-3zM198 345h27v1h-27zM157 346h2v1h-2zM164 346h3v1h-3zM173 346h2v1h-2zM178 346h8v1h-8zM187 346h7v1h-7zM197 346h26v1h-26zM155 347h7v1h-7zM164 347h3v1h-3zM178 347h3v1h-3zM187 347h7v1h-7zM196 347h27v1h-27zM155 348h2v1h-2zM159 348h3v1h-3zM165 348h2v1h-2zM172 348h2v1h-2zM177 348h2v1h-2zM182 348h2v1h-2zM187 348h4v1h-4zM192 348h2v1h-2zM196 348h24v1h-24zM165 349h2v1h-2zM172 349h2v1h-2zM177 349h4v1h-4zM182 349h2v1h-2zM186 349h5v1h-5zM192 349h21v1h-21zM214 349h6v1h-6zM179 350h2v1h-2zM182 350h2v1h-2zM186 350h3v1h-3zM191 350h29v1h-29zM144 351h2v1h-2zM166 351h2v1h-2zM178 351h2v1h-2zM181 351h3v1h-3zM187 351h3v1h-3zM191 351h27v1h-27zM144 352h2v1h-2zM166 352h2v1h-2zM174 352h2v1h-2zM178 352h2v1h-2zM181 352h3v1h-3zM187 352h4v1h-4zM192 352h26v1h-26zM154 353h3v1h-3zM165 353h11v1h-11zM179 353h2v1h-2zM182 353h4v1h-4zM187 353h28v1h-28zM217 353h1v1h-1zM140 354h2v1h-2zM154 354h3v1h-3zM165 354h9v1h-9zM175 354h3v1h-3zM179 354h2v1h-2zM182 354h4v1h-4zM187 354h25v1h-25zM213 354h2v1h-2zM140 355h2v1h-2zM154 355h3v1h-3zM159 355h2v1h-2zM163 355h4v1h-4zM169 355h3v1h-3zM173 355h5v1h-5zM179 355h33v1h-33zM140 356h2v1h-2zM159 356h2v1h-2zM163 356h2v1h-2zM170 356h2v1h-2zM173 356h2v1h-2zM178 356h34v1h-34zM146 357h2v1h-2zM163 357h2v1h-2zM177 357h3v1h-3zM182 357h29v1h-29zM146 358h2v1h-2zM172 358h4v1h-4zM177 358h3v1h-3zM182 358h29v1h-29zM149 359h2v1h-2zM160 359h2v1h-2zM163 359h2v1h-2zM170 359h6v1h-6zM177 359h3v1h-3zM182 359h2v1h-2zM186 359h24v1h-24zM137 360h2v1h-2zM143 360h3v1h-3zM149 360h2v1h-2zM160 360h2v1h-2zM163 360h3v1h-3zM170 360h9v1h-9zM185 360h25v1h-25zM135 361h4v1h-4zM143 361h3v1h-3zM149 361h2v1h-2zM160 361h2v1h-2zM163 361h3v1h-3zM170 361h10v1h-10zM185 361h24v1h-24zM135 362h4v1h-4zM156 362h3v1h-3zM160 362h6v1h-6zM176 362h26v1h-26zM203 362h6v1h-6zM85 363h3v1h-3zM135 363h4v1h-4zM149 363h3v1h-3zM156 363h3v1h-3zM160 363h4v1h-4zM169 363h3v1h-3zM176 363h29v1h-29zM85 364h3v1h-3zM127 364h2v1h-2zM137 364h2v1h-2zM149 364h3v1h-3zM156 364h3v1h-3zM169 364h4v1h-4zM175 364h2v1h-2zM178 364h27v1h-27zM127 365h2v1h-2zM139 365h2v1h-2zM149 365h3v1h-3zM158 365h2v1h-2zM162 365h3v1h-3zM170 365h3v1h-3zM175 365h26v1h-26zM202 365h3v1h-3zM139 366h2v1h-2zM149 366h3v1h-3zM155 366h2v1h-2zM158 366h3v1h-3zM162 366h5v1h-5zM170 366h2v1h-2zM176 366h25v1h-25zM203 366h2v1h-2zM138 367h4v1h-4zM149 367h3v1h-3zM155 367h2v1h-2zM159 367h2v1h-2zM163 367h6v1h-6zM175 367h2v1h-2zM178 367h21v1h-21zM200 367h3v1h-3zM138 368h5v1h-5zM149 368h3v1h-3zM159 368h4v1h-4zM164 368h5v1h-5zM173 368h30v1h-30zM138 369h2v1h-2zM141 369h2v1h-2zM145 369h2v1h-2zM159 369h4v1h-4zM168 369h3v1h-3zM173 369h29v1h-29zM145 370h2v1h-2zM153 370h3v1h-3zM159 370h4v1h-4zM168 370h3v1h-3zM172 370h29v1h-29zM148 371h2v1h-2zM153 371h3v1h-3zM158 371h2v1h-2zM161 371h2v1h-2zM167 371h33v1h-33zM138 372h2v1h-2zM145 372h2v1h-2zM148 372h2v1h-2zM158 372h5v1h-5zM164 372h35v1h-35zM138 373h2v1h-2zM145 373h2v1h-2zM148 373h2v1h-2zM153 373h4v1h-4zM159 373h3v1h-3zM164 373h3v1h-3zM169 373h27v1h-27zM138 374h2v1h-2zM145 374h5v1h-5zM151 374h12v1h-12zM164 374h3v1h-3zM168 374h3v1h-3zM172 374h24v1h-24zM128 375h2v1h-2zM138 375h2v1h-2zM147 375h3v1h-3zM151 375h2v1h-2zM155 375h8v1h-8zM164 375h3v1h-3zM168 375h28v1h-28zM128 376h2v1h-2zM147 376h2v1h-2zM155 376h3v1h-3zM161 376h2v1h-2zM165 376h2v1h-2zM170 376h26v1h-26zM125 377h3v1h-3zM147 377h2v1h-2zM155 377h2v1h-2zM165 377h2v1h-2zM170 377h22v1h-22zM125 378h3v1h-3zM139 378h2v1h-2zM156 378h2v1h-2zM166 378h3v1h-3zM170 378h21v1h-21zM124 379h4v1h-4zM139 379h2v1h-2zM153 379h5v1h-5zM164 379h27v1h-27zM124 380h2v1h-2zM145 380h4v1h-4zM152 380h5v1h-5zM161 380h30v1h-30zM124 381h2v1h-2zM142 381h2v1h-2zM145 381h4v1h-4zM152 381h3v1h-3zM157 381h2v1h-2zM161 381h18v1h-18zM180 381h8v1h-8zM134 382h2v1h-2zM139 382h5v1h-5zM146 382h2v1h-2zM153 382h2v1h-2zM157 382h2v1h-2zM160 382h19v1h-19zM180 382h8v1h-8zM105 383h2v1h-2zM132 383h5v1h-5zM139 383h3v1h-3zM150 383h3v1h-3zM156 383h3v1h-3zM160 383h27v1h-27zM105 384h2v1h-2zM132 384h6v1h-6zM150 384h3v1h-3zM156 384h3v1h-3zM160 384h27v1h-27zM105 385h2v1h-2zM132 385h3v1h-3zM136 385h4v1h-4zM152 385h2v1h-2zM156 385h2v1h-2zM160 385h24v1h-24zM131 386h4v1h-4zM137 386h3v1h-3zM149 386h5v1h-5zM157 386h2v1h-2zM160 386h14v1h-14zM175 386h9v1h-9zM121 387h4v1h-4zM126 387h2v1h-2zM131 387h3v1h-3zM136 387h5v1h-5zM149 387h5v1h-5zM157 387h27v1h-27zM121 388h4v1h-4zM126 388h2v1h-2zM131 388h3v1h-3zM136 388h5v1h-5zM147 388h4v1h-4zM152 388h2v1h-2zM159 388h25v1h-25zM123 389h2v1h-2zM126 389h2v1h-2zM131 389h2v1h-2zM136 389h3v1h-3zM144 389h2v1h-2zM147 389h4v1h-4zM152 389h3v1h-3zM158 389h26v1h-26zM111 390h2v1h-2zM121 390h3v1h-3zM141 390h2v1h-2zM144 390h2v1h-2zM147 390h2v1h-2zM152 390h29v1h-29zM111 391h2v1h-2zM121 391h3v1h-3zM136 391h2v1h-2zM141 391h2v1h-2zM152 391h22v1h-22zM175 391h5v1h-5zM111 392h2v1h-2zM136 392h2v1h-2zM141 392h2v1h-2zM148 392h2v1h-2zM152 392h23v1h-23zM176 392h1v1h-1zM105 393h2v1h-2zM136 393h2v1h-2zM148 393h3v1h-3zM153 393h24v1h-24zM105 394h2v1h-2zM121 394h2v1h-2zM147 394h4v1h-4zM153 394h22v1h-22zM121 395h2v1h-2zM147 395h4v1h-4zM153 395h21v1h-21zM134 396h2v1h-2zM142 396h2v1h-2zM147 396h3v1h-3zM153 396h6v1h-6zM160 396h13v1h-13zM85 397h3v1h-3zM111 397h2v1h-2zM127 397h2v1h-2zM134 397h2v1h-2zM142 397h2v1h-2zM149 397h24v1h-24zM85 398h3v1h-3zM111 398h2v1h-2zM127 398h2v1h-2zM133 398h2v1h-2zM142 398h2v1h-2zM149 398h22v1h-22zM85 399h3v1h-3zM122 399h2v1h-2zM127 399h4v1h-4zM133 399h2v1h-2zM139 399h2v1h-2zM145 399h2v1h-2zM149 399h22v1h-22zM85 400h3v1h-3zM111 400h2v1h-2zM114 400h2v1h-2zM122 400h2v1h-2zM125 400h6v1h-6zM139 400h2v1h-2zM145 400h24v1h-24zM85 401h3v1h-3zM111 401h2v1h-2zM114 401h2v1h-2zM124 401h5v1h-5zM145 401h9v1h-9zM155 401h11v1h-11zM167 401h2v1h-2zM85 402h3v1h-3zM124 402h2v1h-2zM127 402h2v1h-2zM132 402h2v1h-2zM139 402h2v1h-2zM148 402h20v1h-20zM85 403h3v1h-3zM127 403h2v1h-2zM132 403h2v1h-2zM139 403h2v1h-2zM144 403h24v1h-24zM85 404h3v1h-3zM125 404h2v1h-2zM139 404h2v1h-2zM144 404h4v1h-4zM149 404h19v1h-19zM85 405h3v1h-3zM115 405h3v1h-3zM125 405h2v1h-2zM139 405h2v1h-2zM144 405h6v1h-6zM151 405h15v1h-15zM85 406h3v1h-3zM115 406h3v1h-3zM126 406h2v1h-2zM137 406h2v1h-2zM143 406h23v1h-23zM115 407h3v1h-3zM126 407h2v1h-2zM132 407h3v1h-3zM137 407h4v1h-4zM143 407h22v1h-22zM85 408h3v1h-3zM115 408h2v1h-2zM118 408h2v1h-2zM132 408h3v1h-3zM138 408h3v1h-3zM143 408h21v1h-21zM85 409h3v1h-3zM118 409h2v1h-2zM126 409h3v1h-3zM135 409h2v1h-2zM138 409h13v1h-13zM152 409h10v1h-10zM85 410h3v1h-3zM118 410h2v1h-2zM123 410h6v1h-6zM135 410h2v1h-2zM138 410h13v1h-13zM152 410h2v1h-2zM155 410h7v1h-7zM85 411h3v1h-3zM118 411h2v1h-2zM123 411h6v1h-6zM133 411h4v1h-4zM139 411h16v1h-16zM156 411h6v1h-6zM85 412h3v1h-3zM118 412h3v1h-3zM133 412h2v1h-2zM139 412h19v1h-19zM85 413h3v1h-3zM97 413h2v1h-2zM105 413h2v1h-2zM111 413h2v1h-2zM118 413h5v1h-5zM133 413h2v1h-2zM137 413h11v1h-11zM149 413h9v1h-9zM85 414h3v1h-3zM97 414h2v1h-2zM105 414h2v1h-2zM111 414h2v1h-2zM118 414h5v1h-5zM127 414h2v1h-2zM137 414h20v1h-20zM111 415h2v1h-2zM123 415h2v1h-2zM127 415h2v1h-2zM136 415h20v1h-20zM111 416h2v1h-2zM114 416h4v1h-4zM123 416h2v1h-2zM131 416h2v1h-2zM134 416h22v1h-22zM85 417h3v1h-3zM111 417h2v1h-2zM114 417h5v1h-5zM124 417h2v1h-2zM131 417h2v1h-2zM134 417h20v1h-20zM85 418h3v1h-3zM111 418h2v1h-2zM114 418h2v1h-2zM117 418h2v1h-2zM124 418h2v1h-2zM127 418h2v1h-2zM131 418h23v1h-23zM111 419h2v1h-2zM114 419h2v1h-2zM124 419h2v1h-2zM127 419h2v1h-2zM133 419h20v1h-20zM111 420h2v1h-2zM114 420h2v1h-2zM133 420h19v1h-19zM85 421h3v1h-3zM97 421h2v1h-2zM111 421h2v1h-2zM116 421h2v1h-2zM131 421h3v1h-3zM135 421h16v1h-16zM85 422h3v1h-3zM97 422h2v1h-2zM105 422h2v1h-2zM111 422h2v1h-2zM116 422h4v1h-4zM131 422h16v1h-16zM85 423h3v1h-3zM97 423h2v1h-2zM105 423h2v1h-2zM111 423h2v1h-2zM116 423h4v1h-4zM129 423h18v1h-18zM85 424h3v1h-3zM97 424h2v1h-2zM105 424h2v1h-2zM111 424h2v1h-2zM129 424h16v1h-16zM85 425h3v1h-3zM97 425h2v1h-2zM125 425h2v1h-2zM129 425h16v1h-16zM85 426h3v1h-3zM97 426h2v1h-2zM125 426h20v1h-20zM85 427h3v1h-3zM97 427h2v1h-2zM105 427h2v1h-2zM111 427h2v1h-2zM119 427h4v1h-4zM125 427h18v1h-18zM85 428h3v1h-3zM97 428h2v1h-2zM105 428h2v1h-2zM111 428h2v1h-2zM115 428h2v1h-2zM119 428h4v1h-4zM124 428h20v1h-20zM85 429h3v1h-3zM105 429h2v1h-2zM111 429h2v1h-2zM115 429h2v1h-2zM119 429h4v1h-4zM124 429h20v1h-20zM125 430h8v1h-8zM134 430h8v1h-8zM105 431h2v1h-2zM111 431h2v1h-2zM124 431h3v1h-3zM128 431h11v1h-11zM97 432h2v1h-2zM105 432h2v1h-2zM111 432h2v1h-2zM117 432h2v1h-2zM122 432h5v1h-5zM129 432h9v1h-9zM97 433h2v1h-2zM105 433h2v1h-2zM111 433h2v1h-2zM117 433h2v1h-2zM122 433h16v1h-16zM85 434h3v1h-3zM97 434h2v1h-2zM105 434h2v1h-2zM111 434h2v1h-2zM122 434h10v1h-10zM133 434h5v1h-5zM85 435h3v1h-3zM97 435h2v1h-2zM105 435h2v1h-2zM111 435h2v1h-2zM122 435h10v1h-10zM133 435h3v1h-3zM97 436h2v1h-2zM105 436h2v1h-2zM111 436h2v1h-2zM121 436h2v1h-2zM124 436h7v1h-7zM134 436h2v1h-2zM97 437h2v1h-2zM114 437h2v1h-2zM118 437h6v1h-6zM127 437h9v1h-9zM85 438h3v1h-3zM97 438h2v1h-2zM111 438h2v1h-2zM114 438h2v1h-2zM118 438h6v1h-6zM125 438h9v1h-9zM85 439h3v1h-3zM97 439h2v1h-2zM105 439h2v1h-2zM111 439h2v1h-2zM116 439h15v1h-15zM85 440h3v1h-3zM97 440h2v1h-2zM105 440h2v1h-2zM111 440h2v1h-2zM115 440h16v1h-16zM85 441h3v1h-3zM97 441h2v1h-2zM105 441h2v1h-2zM111 441h2v1h-2zM115 441h16v1h-16zM85 442h3v1h-3zM97 442h2v1h-2zM105 442h2v1h-2zM111 442h2v1h-2zM115 442h4v1h-4zM120 442h9v1h-9zM85 443h3v1h-3zM97 443h2v1h-2zM105 443h2v1h-2zM111 443h2v1h-2zM115 443h4v1h-4zM120 443h9v1h-9zM85 444h3v1h-3zM111 444h2v1h-2zM115 444h14v1h-14zM85 445h3v1h-3zM97 445h2v1h-2zM105 445h2v1h-2zM111 445h14v1h-14zM97 446h2v1h-2zM105 446h2v1h-2zM111 446h14v1h-14zM85 447h3v1h-3zM97 447h2v1h-2zM105 447h2v1h-2zM111 447h2v1h-2zM114 447h11v1h-11zM85 448h3v1h-3zM97 448h2v1h-2zM111 448h2v1h-2zM114 448h10v1h-10zM85 449h3v1h-3zM97 449h2v1h-2zM111 449h2v1h-2zM114 449h5v1h-5zM120 449h3v1h-3zM85 450h3v1h-3zM97 450h2v1h-2zM105 450h2v1h-2zM111 450h2v1h-2zM114 450h3v1h-3zM120 450h3v1h-3zM85 451h3v1h-3zM97 451h2v1h-2zM105 451h2v1h-2zM111 451h2v1h-2zM114 451h4v1h-4zM85 452h3v1h-3zM97 452h2v1h-2zM105 452h2v1h-2zM111 452h2v1h-2zM114 452h4v1h-4zM85 453h3v1h-3zM97 453h2v1h-2zM105 453h2v1h-2zM111 453h2v1h-2zM114 453h3v1h-3zM85 454h3v1h-3zM97 454h2v1h-2zM105 454h2v1h-2zM111 454h2v1h-2zM114 454h2v1h-2zM85 455h3v1h-3zM97 455h2v1h-2zM105 455h2v1h-2zM111 455h2v1h-2zM114 455h2v1h-2zM97 456h2v1h-2zM105 456h2v1h-2zM111 456h5v1h-5zM85 457h3v1h-3zM105 457h2v1h-2zM111 457h4v1h-4zM85 458h3v1h-3zM105 458h2v1h-2zM111 458h4v1h-4zM85 459h3v1h-3zM97 459h2v1h-2zM105 459h2v1h-2zM85 460h3v1h-3zM97 460h2v1h-2zM105 460h2v1h-2zM85 461h3v1h-3zM97 461h2v1h-2zM105 461h2v1h-2zM85 466h3v1h-3zM97 466h2v1h-2zM85 467h3v1h-3zM97 467h2v1h-2zM85 474h3v1h-3zM85 475h3v1h-3z"/>
<path fill="#00C800" d="M468 115h2v1h-2zM468 116h2v1h-2zM424 139h5v1h-5zM425 140h4v1h-4zM425 141h3v1h-3zM421 142h7v1h-7zM421 143h7v1h-7zM420 144h8v1h-8zM420 145h7v1h-7zM420 146h6v1h-6zM419 147h5v1h-5zM417 148h7v1h-7zM415 149h8v1h-8zM415 150h6v1h-6zM415 151h5v1h-5zM414 152h6v1h-6zM421 152h2v1h-2zM411 153h8v1h-8zM421 153h4v1h-4zM411 154h10v1h-10zM422 154h3v1h-3zM409 155h9v1h-9zM419 155h2v1h-2zM408 156h9v1h-9zM419 156h2v1h-2zM408 157h13v1h-13zM406 158h15v1h-15zM405 159h11v1h-11zM417 159h2v1h-2zM420 159h4v1h-4zM405 160h10v1h-10zM420 160h4v1h-4zM403 161h9v1h-9zM413 161h2v1h-2zM421 161h4v1h-4zM403 162h9v1h-9zM413 162h3v1h-3zM423 162h4v1h-4zM403 163h9v1h-9zM413 163h3v1h-3zM419 163h2v1h-2zM423 163h4v1h-4zM401 164h13v1h-13zM416 164h2v1h-2zM419 164h2v1h-2zM425 164h2v1h-2zM400 165h14v1h-14zM416 165h2v1h-2zM398 166h18v1h-18zM398 167h8v1h-8zM408 167h3v1h-3zM414 167h6v1h-6zM421 167h3v1h-3zM398 168h8v1h-8zM409 168h2v1h-2zM414 168h6v1h-6zM421 168h3v1h-3zM397 169h9v1h-9zM409 169h4v1h-4zM415 169h2v1h-2zM421 169h3v1h-3zM395 170h9v1h-9zM411 170h2v1h-2zM393 171h11v1h-11zM409 171h6v1h-6zM425 171h2v1h-2zM393 172h22v1h-22zM425 172h2v1h-2zM392 173h23v1h-23zM421 173h3v1h-3zM392 174h18v1h-18zM412 174h2v1h-2zM421 174h3v1h-3zM391 175h13v1h-13zM406 175h2v1h-2zM413 175h2v1h-2zM391 176h8v1h-8zM406 176h3v1h-3zM413 176h2v1h-2zM389 177h9v1h-9zM402 177h3v1h-3zM406 177h3v1h-3zM413 177h2v1h-2zM387 178h11v1h-11zM402 178h3v1h-3zM406 178h3v1h-3zM386 179h17v1h-17zM423 179h3v1h-3zM386 180h10v1h-10zM397 180h6v1h-6zM405 180h3v1h-3zM410 180h3v1h-3zM423 180h3v1h-3zM385 181h10v1h-10zM397 181h2v1h-2zM400 181h2v1h-2zM403 181h10v1h-10zM419 181h3v1h-3zM385 182h10v1h-10zM397 182h2v1h-2zM402 182h4v1h-4zM408 182h2v1h-2zM419 182h3v1h-3zM426 182h2v1h-2zM382 183h11v1h-11zM394 183h2v1h-2zM397 183h3v1h-3zM402 183h2v1h-2zM408 183h2v1h-2zM419 183h3v1h-3zM426 183h2v1h-2zM381 184h15v1h-15zM397 184h3v1h-3zM401 184h2v1h-2zM404 184h2v1h-2zM426 184h2v1h-2zM380 185h11v1h-11zM393 185h4v1h-4zM401 185h2v1h-2zM404 185h2v1h-2zM380 186h11v1h-11zM395 186h2v1h-2zM399 186h2v1h-2zM406 186h3v1h-3zM380 187h11v1h-11zM399 187h2v1h-2zM406 187h3v1h-3zM377 188h12v1h-12zM391 188h3v1h-3zM400 188h2v1h-2zM407 188h2v1h-2zM376 189h14v1h-14zM391 189h3v1h-3zM400 189h2v1h-2zM376 190h14v1h-14zM400 190h2v1h-2zM375 191h19v1h-19zM397 191h5v1h-5zM409 191h2v1h-2zM375 192h11v1h-11zM387 192h7v1h-7zM397 192h5v1h-5zM409 192h2v1h-2zM373 193h12v1h-12zM397 193h5v1h-5zM409 193h2v1h-2zM372 194h13v1h-13zM391 194h9v1h-9zM401 194h2v1h-2zM371 195h15v1h-15zM391 195h6v1h-6zM401 195h2v1h-2zM406 195h3v1h-3zM370 196h16v1h-16zM388 196h2v1h-2zM392 196h7v1h-7zM406 196h3v1h-3zM370 197h10v1h-10zM381 197h3v1h-3zM388 197h3v1h-3zM394 197h7v1h-7zM417 197h2v1h-2zM368 198h12v1h-12zM388 198h8v1h-8zM397 198h4v1h-4zM402 198h4v1h-4zM417 198h2v1h-2zM366 199h14v1h-14zM382 199h14v1h-14zM402 199h4v1h-4zM417 199h2v1h-2zM366 200h15v1h-15zM382 200h11v1h-11zM394 200h2v1h-2zM399 200h3v1h-3zM366 201h15v1h-15zM382 201h11v1h-11zM399 201h3v1h-3zM363 202h20v1h-20zM384 202h6v1h-6zM391 202h2v1h-2zM397 202h2v1h-2zM363 203h15v1h-15zM379 203h4v1h-4zM384 203h3v1h-3zM388 203h2v1h-2zM395 203h4v1h-4zM363 204h14v1h-14zM379 204h3v1h-3zM384 204h2v1h-2zM395 204h2v1h-2zM360 205h15v1h-15zM376 205h3v1h-3zM380 205h3v1h-3zM384 205h6v1h-6zM401 205h2v1h-2zM360 206h23v1h-23zM384 206h6v1h-6zM399 206h4v1h-4zM456 206h3v1h-3zM358 207h15v1h-15zM375 207h6v1h-6zM387 207h4v1h-4zM399 207h2v1h-2zM456 207h3v1h-3zM358 208h15v1h-15zM376 208h5v1h-5zM387 208h4v1h-4zM357 209h15v1h-15zM375 209h6v1h-6zM387 209h3v1h-3zM394 209h2v1h-2zM398 209h3v1h-3zM356 210h3v1h-3zM360 210h21v1h-21zM388 210h2v1h-2zM394 210h2v1h-2zM398 210h3v1h-3zM420 210h2v1h-2zM355 211h4v1h-4zM360 211h10v1h-10zM371 211h8v1h-8zM381 211h2v1h-2zM394 211h2v1h-2zM398 211h3v1h-3zM420 211h2v1h-2zM355 212h19v1h-19zM375 212h3v1h-3zM381 212h2v1h-2zM388 212h2v1h-2zM354 213h14v1h-14zM370 213h2v1h-2zM378 213h3v1h-3zM382 213h2v1h-2zM388 213h2v1h-2zM352 214h16v1h-16zM370 214h2v1h-2zM373 214h8v1h-8zM382 214h2v1h-2zM387 214h3v1h-3zM352 215h16v1h-16zM373 215h5v1h-5zM382 215h2v1h-2zM387 215h4v1h-4zM349 216h19v1h-19zM373 216h6v1h-6zM382 216h2v1h-2zM387 216h4v1h-4zM394 216h4v1h-4zM349 217h20v1h-20zM370 217h2v1h-2zM374 217h2v1h-2zM377 217h2v1h-2zM382 217h4v1h-4zM388 217h2v1h-2zM394 217h4v1h-4zM349 218h20v1h-20zM370 218h2v1h-2zM374 218h6v1h-6zM384 218h2v1h-2zM388 218h2v1h-2zM402 218h2v1h-2zM349 219h12v1h-12zM362 219h7v1h-7zM373 219h9v1h-9zM402 219h2v1h-2zM347 220h22v1h-22zM373 220h2v1h-2zM376 220h2v1h-2zM379 220h3v1h-3zM385 220h2v1h-2zM347 221h16v1h-16zM369 221h2v1h-2zM373 221h2v1h-2zM377 221h5v1h-5zM383 221h4v1h-4zM344 222h18v1h-18zM369 222h2v1h-2zM377 222h5v1h-5zM383 222h4v1h-4zM344 223h18v1h-18zM372 223h2v1h-2zM378 223h4v1h-4zM387 223h4v1h-4zM343 224h23v1h-23zM372 224h2v1h-2zM377 224h3v1h-3zM382 224h3v1h-3zM387 224h4v1h-4zM342 225h5v1h-5zM348 225h18v1h-18zM371 225h2v1h-2zM377 225h8v1h-8zM341 226h21v1h-21zM363 226h2v1h-2zM368 226h5v1h-5zM380 226h5v1h-5zM339 227h24v1h-24zM368 227h3v1h-3zM381 227h2v1h-2zM340 228h23v1h-23zM368 228h3v1h-3zM372 228h3v1h-3zM338 229h18v1h-18zM358 229h4v1h-4zM365 229h2v1h-2zM372 229h7v1h-7zM389 229h2v1h-2zM338 230h18v1h-18zM360 230h2v1h-2zM365 230h2v1h-2zM372 230h7v1h-7zM389 230h2v1h-2zM336 231h21v1h-21zM364 231h3v1h-3zM375 231h2v1h-2zM379 231h2v1h-2zM336 232h17v1h-17zM355 232h2v1h-2zM358 232h2v1h-2zM364 232h3v1h-3zM379 232h2v1h-2zM429 232h3v1h-3zM334 233h19v1h-19zM355 233h2v1h-2zM358 233h2v1h-2zM375 233h5v1h-5zM429 233h3v1h-3zM332 234h22v1h-22zM356 234h2v1h-2zM372 234h2v1h-2zM375 234h5v1h-5zM332 235h23v1h-23zM356 235h2v1h-2zM372 235h4v1h-4zM331 236h19v1h-19zM351 236h4v1h-4zM363 236h2v1h-2zM374 236h2v1h-2zM381 236h2v1h-2zM331 237h19v1h-19zM352 237h3v1h-3zM358 237h2v1h-2zM361 237h4v1h-4zM375 237h3v1h-3zM381 237h2v1h-2zM329 238h26v1h-26zM358 238h7v1h-7zM375 238h3v1h-3zM328 239h27v1h-27zM358 239h5v1h-5zM366 239h3v1h-3zM373 239h3v1h-3zM327 240h19v1h-19zM349 240h2v1h-2zM352 240h2v1h-2zM366 240h3v1h-3zM373 240h3v1h-3zM327 241h19v1h-19zM349 241h3v1h-3zM353 241h3v1h-3zM367 241h3v1h-3zM372 241h2v1h-2zM326 242h19v1h-19zM349 242h7v1h-7zM358 242h3v1h-3zM368 242h3v1h-3zM372 242h3v1h-3zM324 243h21v1h-21zM350 243h7v1h-7zM358 243h5v1h-5zM365 243h3v1h-3zM369 243h2v1h-2zM372 243h3v1h-3zM324 244h21v1h-21zM350 244h7v1h-7zM358 244h5v1h-5zM365 244h3v1h-3zM369 244h2v1h-2zM372 244h2v1h-2zM320 245h24v1h-24zM352 245h2v1h-2zM356 245h3v1h-3zM360 245h3v1h-3zM365 245h5v1h-5zM380 245h2v1h-2zM320 246h24v1h-24zM345 246h4v1h-4zM355 246h4v1h-4zM360 246h6v1h-6zM367 246h3v1h-3zM380 246h2v1h-2zM319 247h23v1h-23zM343 247h7v1h-7zM352 247h6v1h-6zM360 247h2v1h-2zM363 247h3v1h-3zM367 247h2v1h-2zM377 247h2v1h-2zM318 248h11v1h-11zM330 248h12v1h-12zM343 248h7v1h-7zM352 248h9v1h-9zM367 248h2v1h-2zM371 248h2v1h-2zM377 248h2v1h-2zM318 249h24v1h-24zM344 249h5v1h-5zM353 249h4v1h-4zM358 249h3v1h-3zM371 249h2v1h-2zM377 249h2v1h-2zM318 250h22v1h-22zM343 250h3v1h-3zM353 250h4v1h-4zM360 250h2v1h-2zM315 251h25v1h-25zM343 251h3v1h-3zM355 251h2v1h-2zM360 251h2v1h-2zM314 252h24v1h-24zM346 252h2v1h-2zM352 252h2v1h-2zM314 253h20v1h-20zM335 253h3v1h-3zM341 253h2v1h-2zM346 253h2v1h-2zM352 253h2v1h-2zM358 253h3v1h-3zM312 254h22v1h-22zM335 254h3v1h-3zM341 254h2v1h-2zM345 254h3v1h-3zM349 254h3v1h-3zM353 254h3v1h-3zM358 254h4v1h-4zM312 255h22v1h-22zM335 255h3v1h-3zM342 255h6v1h-6zM349 255h7v1h-7zM358 255h4v1h-4zM368 255h3v1h-3zM311 256h25v1h-25zM342 256h6v1h-6zM349 256h6v1h-6zM368 256h3v1h-3zM311 257h25v1h-25zM343 257h3v1h-3zM355 257h3v1h-3zM310 258h24v1h-24zM342 258h5v1h-5zM352 258h6v1h-6zM359 258h2v1h-2zM310 259h6v1h-6zM317 259h17v1h-17zM336 259h2v1h-2zM341 259h6v1h-6zM349 259h2v1h-2zM352 259h4v1h-4zM359 259h2v1h-2zM308 260h20v1h-20zM330 260h3v1h-3zM336 260h2v1h-2zM341 260h6v1h-6zM349 260h2v1h-2zM352 260h2v1h-2zM363 260h2v1h-2zM368 260h3v1h-3zM306 261h22v1h-22zM329 261h6v1h-6zM336 261h4v1h-4zM343 261h2v1h-2zM348 261h3v1h-3zM352 261h4v1h-4zM363 261h8v1h-8zM305 262h21v1h-21zM329 262h3v1h-3zM333 262h2v1h-2zM336 262h6v1h-6zM343 262h4v1h-4zM348 262h2v1h-2zM352 262h4v1h-4zM363 262h7v1h-7zM305 263h20v1h-20zM326 263h7v1h-7zM335 263h7v1h-7zM345 263h5v1h-5zM354 263h5v1h-5zM303 264h21v1h-21zM326 264h3v1h-3zM331 264h2v1h-2zM335 264h3v1h-3zM347 264h3v1h-3zM354 264h5v1h-5zM361 264h2v1h-2zM303 265h21v1h-21zM328 265h2v1h-2zM331 265h7v1h-7zM344 265h2v1h-2zM354 265h9v1h-9zM301 266h22v1h-22zM328 266h2v1h-2zM331 266h6v1h-6zM338 266h2v1h-2zM344 266h2v1h-2zM347 266h2v1h-2zM359 266h4v1h-4zM300 267h20v1h-20zM325 267h3v1h-3zM330 267h2v1h-2zM335 267h2v1h-2zM338 267h2v1h-2zM344 267h2v1h-2zM347 267h2v1h-2zM300 268h22v1h-22zM324 268h8v1h-8zM335 268h2v1h-2zM338 268h2v1h-2zM346 268h3v1h-3zM300 269h23v1h-23zM324 269h3v1h-3zM328 269h4v1h-4zM340 269h3v1h-3zM346 269h3v1h-3zM353 269h2v1h-2zM296 270h27v1h-27zM324 270h2v1h-2zM329 270h5v1h-5zM340 270h5v1h-5zM346 270h2v1h-2zM351 270h4v1h-4zM296 271h22v1h-22zM320 271h3v1h-3zM324 271h2v1h-2zM332 271h2v1h-2zM338 271h2v1h-2zM341 271h4v1h-4zM348 271h2v1h-2zM351 271h2v1h-2zM295 272h23v1h-23zM319 272h6v1h-6zM334 272h2v1h-2zM338 272h2v1h-2zM341 272h5v1h-5zM348 272h2v1h-2zM357 272h2v1h-2zM362 272h4v1h-4zM295 273h26v1h-26zM322 273h3v1h-3zM334 273h3v1h-3zM338 273h2v1h-2zM341 273h9v1h-9zM357 273h2v1h-2zM362 273h4v1h-4zM368 273h2v1h-2zM293 274h19v1h-19zM313 274h14v1h-14zM334 274h3v1h-3zM343 274h5v1h-5zM351 274h3v1h-3zM357 274h2v1h-2zM368 274h2v1h-2zM291 275h3v1h-3zM295 275h17v1h-17zM316 275h12v1h-12zM334 275h3v1h-3zM338 275h2v1h-2zM351 275h3v1h-3zM290 276h24v1h-24zM316 276h7v1h-7zM325 276h3v1h-3zM338 276h2v1h-2zM351 276h3v1h-3zM290 277h21v1h-21zM312 277h2v1h-2zM318 277h2v1h-2zM325 277h6v1h-6zM347 277h2v1h-2zM352 277h3v1h-3zM290 278h21v1h-21zM314 278h3v1h-3zM318 278h2v1h-2zM327 278h4v1h-4zM347 278h2v1h-2zM352 278h3v1h-3zM289 279h21v1h-21zM314 279h11v1h-11zM327 279h3v1h-3zM347 279h2v1h-2zM350 279h5v1h-5zM286 280h26v1h-26zM314 280h11v1h-11zM327 280h2v1h-2zM330 280h3v1h-3zM346 280h2v1h-2zM350 280h2v1h-2zM361 280h2v1h-2zM286 281h26v1h-26zM317 281h11v1h-11zM330 281h3v1h-3zM346 281h2v1h-2zM353 281h2v1h-2zM361 281h2v1h-2zM286 282h21v1h-21zM308 282h7v1h-7zM323 282h7v1h-7zM347 282h2v1h-2zM353 282h2v1h-2zM361 282h2v1h-2zM286 283h21v1h-21zM308 283h7v1h-7zM323 283h7v1h-7zM331 283h3v1h-3zM347 283h2v1h-2zM284 284h23v1h-23zM308 284h7v1h-7zM321 284h2v1h-2zM328 284h2v1h-2zM331 284h3v1h-3zM335 284h2v1h-2zM347 284h2v1h-2zM362 284h2v1h-2zM282 285h24v1h-24zM307 285h2v1h-2zM311 285h2v1h-2zM317 285h3v1h-3zM321 285h2v1h-2zM329 285h4v1h-4zM335 285h2v1h-2zM362 285h2v1h-2zM283 286h23v1h-23zM307 286h2v1h-2zM311 286h2v1h-2zM317 286h3v1h-3zM323 286h4v1h-4zM329 286h4v1h-4zM335 286h4v1h-4zM281 287h27v1h-27zM317 287h3v1h-3zM323 287h4v1h-4zM329 287h2v1h-2zM337 287h2v1h-2zM342 287h2v1h-2zM278 288h26v1h-26zM305 288h6v1h-6zM313 288h2v1h-2zM319 288h4v1h-4zM325 288h3v1h-3zM329 288h2v1h-2zM332 288h3v1h-3zM342 288h2v1h-2zM353 288h2v1h-2zM278 289h26v1h-26zM305 289h6v1h-6zM313 289h2v1h-2zM317 289h6v1h-6zM324 289h4v1h-4zM332 289h3v1h-3zM351 289h4v1h-4zM278 290h26v1h-26zM307 290h9v1h-9zM317 290h4v1h-4zM324 290h3v1h-3zM348 290h7v1h-7zM277 291h27v1h-27zM307 291h2v1h-2zM311 291h5v1h-5zM317 291h4v1h-4zM323 291h4v1h-4zM348 291h5v1h-5zM277 292h21v1h-21zM300 292h3v1h-3zM307 292h2v1h-2zM311 292h5v1h-5zM323 292h2v1h-2zM327 292h2v1h-2zM330 292h3v1h-3zM338 292h2v1h-2zM277 293h7v1h-7zM285 293h12v1h-12zM301 293h4v1h-4zM307 293h2v1h-2zM311 293h7v1h-7zM327 293h6v1h-6zM338 293h2v1h-2zM350 293h2v1h-2zM273 294h24v1h-24zM303 294h2v1h-2zM308 294h2v1h-2zM313 294h5v1h-5zM322 294h4v1h-4zM329 294h3v1h-3zM338 294h3v1h-3zM350 294h2v1h-2zM273 295h22v1h-22zM304 295h2v1h-2zM307 295h3v1h-3zM313 295h5v1h-5zM322 295h4v1h-4zM339 295h2v1h-2zM272 296h1v1h-1zM274 296h21v1h-21zM302 296h4v1h-4zM307 296h5v1h-5zM315 296h5v1h-5zM323 296h5v1h-5zM329 296h2v1h-2zM340 296h3v1h-3zM272 297h20v1h-20zM301 297h5v1h-5zM309 297h4v1h-4zM318 297h2v1h-2zM323 297h8v1h-8zM340 297h3v1h-3zM270 298h29v1h-29zM301 298h6v1h-6zM310 298h3v1h-3zM317 298h3v1h-3zM323 298h6v1h-6zM331 298h3v1h-3zM340 298h5v1h-5zM269 299h30v1h-30zM301 299h8v1h-8zM317 299h3v1h-3zM326 299h3v1h-3zM331 299h3v1h-3zM343 299h2v1h-2zM267 300h24v1h-24zM293 300h2v1h-2zM296 300h3v1h-3zM301 300h4v1h-4zM306 300h3v1h-3zM314 300h8v1h-8zM328 300h2v1h-2zM267 301h23v1h-23zM291 301h4v1h-4zM297 301h2v1h-2zM300 301h2v1h-2zM304 301h2v1h-2zM314 301h11v1h-11zM328 301h2v1h-2zM266 302h19v1h-19zM286 302h3v1h-3zM291 302h4v1h-4zM300 302h2v1h-2zM303 302h3v1h-3zM316 302h2v1h-2zM319 302h2v1h-2zM322 302h3v1h-3zM327 302h3v1h-3zM341 302h2v1h-2zM266 303h23v1h-23zM291 303h2v1h-2zM295 303h2v1h-2zM299 303h3v1h-3zM303 303h2v1h-2zM311 303h3v1h-3zM316 303h2v1h-2zM319 303h2v1h-2zM322 303h3v1h-3zM327 303h3v1h-3zM341 303h2v1h-2zM264 304h23v1h-23zM289 304h4v1h-4zM295 304h6v1h-6zM302 304h2v1h-2zM308 304h2v1h-2zM311 304h3v1h-3zM317 304h3v1h-3zM322 304h2v1h-2zM327 304h3v1h-3zM264 305h24v1h-24zM289 305h10v1h-10zM301 305h3v1h-3zM305 305h2v1h-2zM308 305h2v1h-2zM317 305h3v1h-3zM322 305h2v1h-2zM325 305h5v1h-5zM334 305h2v1h-2zM345 305h3v1h-3zM263 306h25v1h-25zM290 306h5v1h-5zM297 306h2v1h-2zM301 306h3v1h-3zM305 306h2v1h-2zM308 306h2v1h-2zM313 306h7v1h-7zM322 306h2v1h-2zM325 306h2v1h-2zM334 306h2v1h-2zM345 306h3v1h-3zM262 307h25v1h-25zM290 307h3v1h-3zM295 307h4v1h-4zM313 307h4v1h-4zM325 307h2v1h-2zM260 308h27v1h-27zM295 308h5v1h-5zM301 308h2v1h-2zM313 308h2v1h-2zM316 308h2v1h-2zM322 308h2v1h-2zM328 308h2v1h-2zM259 309h24v1h-24zM284 309h4v1h-4zM296 309h4v1h-4zM301 309h3v1h-3zM305 309h2v1h-2zM313 309h2v1h-2zM316 309h3v1h-3zM322 309h2v1h-2zM328 309h2v1h-2zM259 310h22v1h-22zM283 310h5v1h-5zM298 310h2v1h-2zM301 310h6v1h-6zM312 310h3v1h-3zM317 310h2v1h-2zM322 310h2v1h-2zM345 310h3v1h-3zM259 311h21v1h-21zM283 311h3v1h-3zM290 311h2v1h-2zM297 311h8v1h-8zM311 311h4v1h-4zM326 311h2v1h-2zM329 311h2v1h-2zM345 311h3v1h-3zM256 312h24v1h-24zM283 312h5v1h-5zM290 312h2v1h-2zM297 312h8v1h-8zM310 312h6v1h-6zM326 312h2v1h-2zM329 312h2v1h-2zM255 313h23v1h-23zM283 313h5v1h-5zM290 313h2v1h-2zM298 313h2v1h-2zM301 313h2v1h-2zM306 313h2v1h-2zM310 313h6v1h-6zM329 313h2v1h-2zM255 314h23v1h-23zM285 314h7v1h-7zM300 314h2v1h-2zM303 314h2v1h-2zM306 314h2v1h-2zM312 314h4v1h-4zM356 314h2v1h-2zM255 315h24v1h-24zM283 315h2v1h-2zM286 315h8v1h-8zM300 315h2v1h-2zM303 315h2v1h-2zM313 315h5v1h-5zM356 315h2v1h-2zM253 316h23v1h-23zM277 316h2v1h-2zM283 316h2v1h-2zM288 316h3v1h-3zM292 316h2v1h-2zM297 316h5v1h-5zM303 316h2v1h-2zM313 316h7v1h-7zM252 317h23v1h-23zM281 317h3v1h-3zM286 317h9v1h-9zM297 317h5v1h-5zM309 317h2v1h-2zM318 317h2v1h-2zM251 318h25v1h-25zM281 318h3v1h-3zM286 318h10v1h-10zM297 318h2v1h-2zM309 318h2v1h-2zM315 318h2v1h-2zM250 319h27v1h-27zM281 319h3v1h-3zM286 319h3v1h-3zM291 319h5v1h-5zM304 319h3v1h-3zM315 319h2v1h-2zM248 320h1v1h-1zM250 320h22v1h-22zM273 320h4v1h-4zM281 320h9v1h-9zM291 320h2v1h-2zM294 320h2v1h-2zM304 320h3v1h-3zM315 320h2v1h-2zM248 321h23v1h-23zM273 321h4v1h-4zM284 321h10v1h-10zM306 321h3v1h-3zM315 321h2v1h-2zM336 321h2v1h-2zM354 321h2v1h-2zM246 322h25v1h-25zM273 322h3v1h-3zM278 322h4v1h-4zM287 322h7v1h-7zM306 322h3v1h-3zM320 322h2v1h-2zM336 322h2v1h-2zM354 322h2v1h-2zM247 323h24v1h-24zM273 323h4v1h-4zM278 323h4v1h-4zM288 323h4v1h-4zM320 323h2v1h-2zM244 324h23v1h-23zM273 324h4v1h-4zM291 324h2v1h-2zM311 324h2v1h-2zM320 324h2v1h-2zM243 325h26v1h-26zM271 325h6v1h-6zM278 325h2v1h-2zM286 325h4v1h-4zM291 325h2v1h-2zM296 325h2v1h-2zM303 325h2v1h-2zM311 325h2v1h-2zM243 326h23v1h-23zM267 326h2v1h-2zM271 326h6v1h-6zM278 326h2v1h-2zM286 326h4v1h-4zM296 326h2v1h-2zM303 326h2v1h-2zM311 326h4v1h-4zM331 326h2v1h-2zM242 327h23v1h-23zM266 327h2v1h-2zM300 327h2v1h-2zM303 327h2v1h-2zM312 327h3v1h-3zM331 327h2v1h-2zM338 327h2v1h-2zM242 328h23v1h-23zM266 328h6v1h-6zM300 328h2v1h-2zM338 328h2v1h-2zM241 329h23v1h-23zM266 329h6v1h-6zM273 329h2v1h-2zM300 329h5v1h-5zM317 329h3v1h-3zM338 329h2v1h-2zM241 330h23v1h-23zM266 330h4v1h-4zM273 330h2v1h-2zM279 330h3v1h-3zM283 330h3v1h-3zM300 330h5v1h-5zM317 330h3v1h-3zM321 330h3v1h-3zM338 330h2v1h-2zM240 331h25v1h-25zM266 331h3v1h-3zM273 331h4v1h-4zM279 331h3v1h-3zM283 331h3v1h-3zM302 331h3v1h-3zM317 331h3v1h-3zM321 331h3v1h-3zM237 332h28v1h-28zM266 332h2v1h-2zM275 332h2v1h-2zM282 332h6v1h-6zM291 332h2v1h-2zM302 332h2v1h-2zM305 332h2v1h-2zM321 332h3v1h-3zM237 333h23v1h-23zM261 333h3v1h-3zM275 333h2v1h-2zM280 333h8v1h-8zM289 333h4v1h-4zM298 333h2v1h-2zM302 333h2v1h-2zM305 333h2v1h-2zM341 333h2v1h-2zM235 334h27v1h-27zM269 334h3v1h-3zM273 334h4v1h-4zM280 334h2v1h-2zM285 334h3v1h-3zM289 334h4v1h-4zM298 334h2v1h-2zM302 334h2v1h-2zM341 334h2v1h-2zM234 335h22v1h-22zM260 335h2v1h-2zM267 335h5v1h-5zM273 335h2v1h-2zM276 335h2v1h-2zM283 335h4v1h-4zM292 335h3v1h-3zM305 335h2v1h-2zM232 336h24v1h-24zM260 336h2v1h-2zM265 336h4v1h-4zM271 336h4v1h-4zM276 336h2v1h-2zM280 336h11v1h-11zM292 336h3v1h-3zM297 336h2v1h-2zM305 336h4v1h-4zM232 337h32v1h-32zM265 337h3v1h-3zM271 337h2v1h-2zM275 337h3v1h-3zM280 337h11v1h-11zM297 337h2v1h-2zM305 337h4v1h-4zM232 338h32v1h-32zM267 338h2v1h-2zM275 338h2v1h-2zM278 338h2v1h-2zM283 338h7v1h-7zM292 338h2v1h-2zM231 339h23v1h-23zM255 339h11v1h-11zM267 339h2v1h-2zM275 339h2v1h-2zM278 339h2v1h-2zM283 339h4v1h-4zM288 339h2v1h-2zM292 339h3v1h-3zM230 340h23v1h-23zM263 340h3v1h-3zM267 340h3v1h-3zM278 340h2v1h-2zM283 340h4v1h-4zM293 340h5v1h-5zM227 341h26v1h-26zM262 341h4v1h-4zM267 341h5v1h-5zM276 341h4v1h-4zM281 341h4v1h-4zM288 341h2v1h-2zM295 341h3v1h-3zM226 342h25v1h-25zM255 342h3v1h-3zM259 342h2v1h-2zM262 342h4v1h-4zM267 342h5v1h-5zM274 342h6v1h-6zM281 342h9v1h-9zM295 342h3v1h-3zM226 343h27v1h-27zM255 343h3v1h-3zM259 343h2v1h-2zM262 343h4v1h-4zM273 343h3v1h-3zM277 343h2v1h-2zM281 343h7v1h-7zM292 343h2v1h-2zM295 343h2v1h-2zM225 344h24v1h-24zM251 344h2v1h-2zM257 344h7v1h-7zM273 344h2v1h-2zM278 344h2v1h-2zM292 344h2v1h-2zM297 344h3v1h-3zM312 344h3v1h-3zM225 345h26v1h-26zM256 345h9v1h-9zM272 345h4v1h-4zM277 345h3v1h-3zM292 345h2v1h-2zM297 345h3v1h-3zM312 345h3v1h-3zM223 346h12v1h-12zM236 346h18v1h-18zM256 346h2v1h-2zM260 346h5v1h-5zM272 346h4v1h-4zM277 346h2v1h-2zM292 346h2v1h-2zM312 346h3v1h-3zM223 347h39v1h-39zM263 347h2v1h-2zM270 347h3v1h-3zM292 347h2v1h-2zM220 348h37v1h-37zM258 348h4v1h-4zM263 348h2v1h-2zM268 348h5v1h-5zM287 348h2v1h-2zM294 348h2v1h-2zM314 348h3v1h-3zM220 349h31v1h-31zM252 349h6v1h-6zM259 349h3v1h-3zM264 349h2v1h-2zM268 349h4v1h-4zM287 349h2v1h-2zM294 349h2v1h-2zM298 349h3v1h-3zM314 349h3v1h-3zM220 350h31v1h-31zM252 350h2v1h-2zM255 350h4v1h-4zM260 350h6v1h-6zM269 350h2v1h-2zM276 350h5v1h-5zM298 350h3v1h-3zM310 350h2v1h-2zM219 351h24v1h-24zM244 351h2v1h-2zM247 351h13v1h-13zM261 351h6v1h-6zM269 351h2v1h-2zM276 351h5v1h-5zM299 351h2v1h-2zM310 351h2v1h-2zM218 352h24v1h-24zM244 352h2v1h-2zM248 352h12v1h-12zM261 352h6v1h-6zM280 352h2v1h-2zM299 352h2v1h-2zM215 353h2v1h-2zM218 353h24v1h-24zM248 353h3v1h-3zM257 353h3v1h-3zM274 353h2v1h-2zM278 353h4v1h-4zM215 354h27v1h-27zM243 354h3v1h-3zM248 354h2v1h-2zM266 354h3v1h-3zM274 354h2v1h-2zM278 354h2v1h-2zM286 354h3v1h-3zM213 355h26v1h-26zM240 355h2v1h-2zM243 355h3v1h-3zM249 355h3v1h-3zM257 355h2v1h-2zM266 355h3v1h-3zM274 355h2v1h-2zM278 355h2v1h-2zM286 355h3v1h-3zM213 356h11v1h-11zM225 356h13v1h-13zM240 356h3v1h-3zM244 356h8v1h-8zM257 356h2v1h-2zM264 356h2v1h-2zM274 356h3v1h-3zM283 356h2v1h-2zM211 357h13v1h-13zM225 357h13v1h-13zM240 357h12v1h-12zM257 357h2v1h-2zM264 357h5v1h-5zM275 357h2v1h-2zM283 357h2v1h-2zM211 358h27v1h-27zM239 358h2v1h-2zM242 358h3v1h-3zM246 358h8v1h-8zM266 358h3v1h-3zM275 358h2v1h-2zM286 358h2v1h-2zM333 358h3v1h-3zM210 359h28v1h-28zM239 359h6v1h-6zM247 359h2v1h-2zM252 359h2v1h-2zM258 359h3v1h-3zM265 359h4v1h-4zM271 359h2v1h-2zM278 359h2v1h-2zM286 359h2v1h-2zM333 359h3v1h-3zM210 360h24v1h-24zM236 360h7v1h-7zM247 360h2v1h-2zM250 360h4v1h-4zM257 360h4v1h-4zM265 360h3v1h-3zM271 360h3v1h-3zM278 360h2v1h-2zM294 360h3v1h-3zM333 360h3v1h-3zM209 361h25v1h-25zM235 361h2v1h-2zM238 361h2v1h-2zM250 361h2v1h-2zM257 361h4v1h-4zM265 361h9v1h-9zM294 361h3v1h-3zM321 361h2v1h-2zM209 362h25v1h-25zM235 362h2v1h-2zM238 362h2v1h-2zM249 362h3v1h-3zM258 362h6v1h-6zM265 362h6v1h-6zM275 362h3v1h-3zM321 362h2v1h-2zM205 363h25v1h-25zM237 363h4v1h-4zM244 363h3v1h-3zM249 363h3v1h-3zM257 363h2v1h-2zM260 363h9v1h-9zM272 363h2v1h-2zM275 363h3v1h-3zM281 363h2v1h-2zM205 364h24v1h-24zM233 364h8v1h-8zM244 364h7v1h-7zM257 364h2v1h-2zM262 364h8v1h-8zM272 364h2v1h-2zM275 364h3v1h-3zM281 364h2v1h-2zM205 365h36v1h-36zM244 365h8v1h-8zM257 365h2v1h-2zM265 365h5v1h-5zM276 365h2v1h-2zM280 365h2v1h-2zM205 366h21v1h-21zM229 366h11v1h-11zM243 366h5v1h-5zM249 366h3v1h-3zM256 366h2v1h-2zM265 366h2v1h-2zM268 366h3v1h-3zM280 366h2v1h-2zM304 366h3v1h-3zM204 367h34v1h-34zM240 367h8v1h-8zM253 367h2v1h-2zM256 367h4v1h-4zM268 367h3v1h-3zM274 367h2v1h-2zM282 367h2v1h-2zM304 367h3v1h-3zM203 368h35v1h-35zM240 368h9v1h-9zM252 368h3v1h-3zM256 368h5v1h-5zM262 368h4v1h-4zM274 368h3v1h-3zM282 368h2v1h-2zM202 369h24v1h-24zM227 369h6v1h-6zM236 369h2v1h-2zM240 369h4v1h-4zM246 369h3v1h-3zM252 369h2v1h-2zM255 369h6v1h-6zM262 369h4v1h-4zM275 369h2v1h-2zM298 369h2v1h-2zM201 370h19v1h-19zM221 370h12v1h-12zM235 370h3v1h-3zM240 370h4v1h-4zM245 370h5v1h-5zM252 370h8v1h-8zM264 370h5v1h-5zM298 370h2v1h-2zM200 371h30v1h-30zM231 371h6v1h-6zM240 371h3v1h-3zM245 371h5v1h-5zM251 371h4v1h-4zM257 371h3v1h-3zM265 371h4v1h-4zM298 371h2v1h-2zM199 372h23v1h-23zM225 372h5v1h-5zM231 372h5v1h-5zM240 372h6v1h-6zM251 372h4v1h-4zM257 372h3v1h-3zM265 372h4v1h-4zM196 373h26v1h-26zM225 373h2v1h-2zM228 373h2v1h-2zM243 373h4v1h-4zM251 373h3v1h-3zM265 373h4v1h-4zM196 374h23v1h-23zM226 374h2v1h-2zM240 374h3v1h-3zM244 374h9v1h-9zM259 374h3v1h-3zM196 375h17v1h-17zM214 375h5v1h-5zM224 375h4v1h-4zM240 375h3v1h-3zM244 375h9v1h-9zM259 375h3v1h-3zM196 376h19v1h-19zM217 376h3v1h-3zM221 376h7v1h-7zM240 376h3v1h-3zM244 376h4v1h-4zM252 376h2v1h-2zM259 376h3v1h-3zM192 377h23v1h-23zM216 377h4v1h-4zM221 377h7v1h-7zM237 377h2v1h-2zM245 377h3v1h-3zM252 377h2v1h-2zM258 377h2v1h-2zM262 377h2v1h-2zM191 378h9v1h-9zM202 378h13v1h-13zM216 378h4v1h-4zM222 378h2v1h-2zM226 378h2v1h-2zM231 378h2v1h-2zM237 378h2v1h-2zM258 378h2v1h-2zM262 378h2v1h-2zM191 379h9v1h-9zM203 379h6v1h-6zM212 379h2v1h-2zM217 379h4v1h-4zM222 379h5v1h-5zM231 379h5v1h-5zM237 379h2v1h-2zM249 379h2v1h-2zM258 379h2v1h-2zM261 379h2v1h-2zM191 380h11v1h-11zM203 380h8v1h-8zM217 380h4v1h-4zM223 380h5v1h-5zM231 380h8v1h-8zM240 380h2v1h-2zM249 380h4v1h-4zM256 380h4v1h-4zM261 380h2v1h-2zM188 381h23v1h-23zM217 381h3v1h-3zM222 381h6v1h-6zM232 381h3v1h-3zM236 381h3v1h-3zM240 381h3v1h-3zM250 381h3v1h-3zM256 381h4v1h-4zM188 382h21v1h-21zM212 382h3v1h-3zM222 382h2v1h-2zM225 382h6v1h-6zM232 382h3v1h-3zM236 382h2v1h-2zM241 382h2v1h-2zM245 382h2v1h-2zM258 382h2v1h-2zM187 383h22v1h-22zM212 383h3v1h-3zM222 383h2v1h-2zM227 383h4v1h-4zM232 383h3v1h-3zM244 383h3v1h-3zM187 384h20v1h-20zM217 384h2v1h-2zM222 384h9v1h-9zM232 384h3v1h-3zM244 384h3v1h-3zM184 385h24v1h-24zM215 385h4v1h-4zM222 385h5v1h-5zM235 385h2v1h-2zM244 385h3v1h-3zM248 385h2v1h-2zM259 385h3v1h-3zM184 386h24v1h-24zM209 386h2v1h-2zM215 386h3v1h-3zM223 386h5v1h-5zM235 386h2v1h-2zM239 386h3v1h-3zM246 386h4v1h-4zM259 386h3v1h-3zM279 386h2v1h-2zM184 387h3v1h-3zM189 387h19v1h-19zM209 387h5v1h-5zM215 387h2v1h-2zM223 387h5v1h-5zM239 387h3v1h-3zM245 387h4v1h-4zM256 387h3v1h-3zM279 387h2v1h-2zM184 388h3v1h-3zM188 388h16v1h-16zM205 388h3v1h-3zM209 388h5v1h-5zM223 388h2v1h-2zM227 388h3v1h-3zM233 388h3v1h-3zM239 388h3v1h-3zM245 388h4v1h-4zM256 388h3v1h-3zM184 389h19v1h-19zM209 389h5v1h-5zM223 389h2v1h-2zM227 389h3v1h-3zM233 389h3v1h-3zM274 389h3v1h-3zM181 390h16v1h-16zM199 390h4v1h-4zM214 390h2v1h-2zM223 390h2v1h-2zM227 390h3v1h-3zM233 390h3v1h-3zM246 390h2v1h-2zM274 390h3v1h-3zM180 391h22v1h-22zM207 391h2v1h-2zM211 391h5v1h-5zM218 391h2v1h-2zM223 391h2v1h-2zM228 391h2v1h-2zM246 391h2v1h-2zM177 392h25v1h-25zM207 392h2v1h-2zM211 392h4v1h-4zM218 392h2v1h-2zM228 392h3v1h-3zM267 392h2v1h-2zM308 392h2v1h-2zM177 393h12v1h-12zM191 393h7v1h-7zM199 393h4v1h-4zM207 393h10v1h-10zM226 393h5v1h-5zM243 393h2v1h-2zM266 393h3v1h-3zM308 393h2v1h-2zM175 394h14v1h-14zM191 394h6v1h-6zM201 394h2v1h-2zM205 394h2v1h-2zM208 394h9v1h-9zM224 394h5v1h-5zM243 394h2v1h-2zM266 394h2v1h-2zM174 395h23v1h-23zM198 395h3v1h-3zM203 395h4v1h-4zM208 395h9v1h-9zM224 395h7v1h-7zM240 395h5v1h-5zM174 396h22v1h-22zM198 396h4v1h-4zM203 396h7v1h-7zM213 396h4v1h-4zM222 396h5v1h-5zM228 396h3v1h-3zM240 396h3v1h-3zM173 397h21v1h-21zM196 397h6v1h-6zM203 397h7v1h-7zM213 397h2v1h-2zM216 397h2v1h-2zM222 397h9v1h-9zM240 397h3v1h-3zM275 397h2v1h-2zM171 398h32v1h-32zM206 398h3v1h-3zM211 398h2v1h-2zM216 398h2v1h-2zM223 398h6v1h-6zM275 398h2v1h-2zM171 399h21v1h-21zM193 399h3v1h-3zM199 399h4v1h-4zM211 399h2v1h-2zM216 399h2v1h-2zM224 399h5v1h-5zM231 399h3v1h-3zM240 399h2v1h-2zM275 399h2v1h-2zM169 400h3v1h-3zM173 400h19v1h-19zM193 400h5v1h-5zM206 400h2v1h-2zM211 400h2v1h-2zM216 400h5v1h-5zM228 400h6v1h-6zM237 400h5v1h-5zM169 401h23v1h-23zM193 401h6v1h-6zM203 401h2v1h-2zM206 401h4v1h-4zM211 401h2v1h-2zM214 401h7v1h-7zM227 401h5v1h-5zM237 401h5v1h-5zM168 402h21v1h-21zM190 402h9v1h-9zM203 402h2v1h-2zM207 402h3v1h-3zM211 402h7v1h-7zM227 402h3v1h-3zM237 402h2v1h-2zM242 402h2v1h-2zM168 403h26v1h-26zM200 403h2v1h-2zM203 403h2v1h-2zM207 403h3v1h-3zM212 403h6v1h-6zM221 403h2v1h-2zM227 403h2v1h-2zM242 403h3v1h-3zM168 404h1v1h-1zM170 404h24v1h-24zM199 404h3v1h-3zM207 404h3v1h-3zM215 404h4v1h-4zM221 404h2v1h-2zM225 404h2v1h-2zM230 404h3v1h-3zM242 404h3v1h-3zM167 405h21v1h-21zM190 405h4v1h-4zM195 405h3v1h-3zM199 405h3v1h-3zM208 405h3v1h-3zM215 405h4v1h-4zM220 405h3v1h-3zM225 405h2v1h-2zM230 405h3v1h-3zM269 405h3v1h-3zM166 406h11v1h-11zM178 406h10v1h-10zM189 406h2v1h-2zM192 406h2v1h-2zM195 406h3v1h-3zM201 406h2v1h-2zM209 406h2v1h-2zM216 406h3v1h-3zM220 406h2v1h-2zM227 406h2v1h-2zM269 406h3v1h-3zM165 407h7v1h-7zM173 407h13v1h-13zM187 407h6v1h-6zM201 407h4v1h-4zM227 407h2v1h-2zM241 407h3v1h-3zM246 407h2v1h-2zM164 408h18v1h-18zM183 408h3v1h-3zM187 408h6v1h-6zM194 408h4v1h-4zM201 408h4v1h-4zM208 408h5v1h-5zM241 408h3v1h-3zM246 408h2v1h-2zM162 409h20v1h-20zM187 409h11v1h-11zM201 409h4v1h-4zM208 409h7v1h-7zM236 409h2v1h-2zM241 409h3v1h-3zM252 409h2v1h-2zM162 410h21v1h-21zM187 410h13v1h-13zM202 410h5v1h-5zM208 410h7v1h-7zM219 410h5v1h-5zM236 410h2v1h-2zM242 410h2v1h-2zM252 410h2v1h-2zM162 411h3v1h-3zM166 411h18v1h-18zM185 411h5v1h-5zM194 411h2v1h-2zM198 411h2v1h-2zM202 411h5v1h-5zM210 411h2v1h-2zM219 411h5v1h-5zM236 411h2v1h-2zM252 411h2v1h-2zM158 412h20v1h-20zM181 412h3v1h-3zM185 412h10v1h-10zM198 412h2v1h-2zM202 412h7v1h-7zM210 412h2v1h-2zM221 412h2v1h-2zM158 413h20v1h-20zM181 413h8v1h-8zM190 413h5v1h-5zM196 413h2v1h-2zM203 413h6v1h-6zM210 413h2v1h-2zM215 413h2v1h-2zM218 413h2v1h-2zM221 413h2v1h-2zM160 414h2v1h-2zM163 414h9v1h-9zM173 414h4v1h-4zM178 414h3v1h-3zM182 414h7v1h-7zM190 414h5v1h-5zM196 414h2v1h-2zM203 414h2v1h-2zM206 414h3v1h-3zM215 414h2v1h-2zM218 414h2v1h-2zM223 414h2v1h-2zM156 415h3v1h-3zM160 415h12v1h-12zM173 415h2v1h-2zM177 415h4v1h-4zM182 415h7v1h-7zM194 415h2v1h-2zM197 415h2v1h-2zM206 415h3v1h-3zM223 415h2v1h-2zM236 415h2v1h-2zM156 416h16v1h-16zM177 416h10v1h-10zM194 416h2v1h-2zM197 416h2v1h-2zM206 416h3v1h-3zM236 416h2v1h-2zM154 417h18v1h-18zM181 417h6v1h-6zM201 417h2v1h-2zM210 417h6v1h-6zM154 418h20v1h-20zM181 418h4v1h-4zM193 418h3v1h-3zM201 418h2v1h-2zM204 418h2v1h-2zM208 418h9v1h-9zM241 418h2v1h-2zM153 419h18v1h-18zM172 419h2v1h-2zM181 419h4v1h-4zM193 419h3v1h-3zM204 419h2v1h-2zM208 419h9v1h-9zM241 419h2v1h-2zM152 420h21v1h-21zM178 420h6v1h-6zM185 420h3v1h-3zM193 420h3v1h-3zM204 420h3v1h-3zM214 420h3v1h-3zM151 421h22v1h-22zM178 421h3v1h-3zM185 421h3v1h-3zM189 421h2v1h-2zM201 421h2v1h-2zM204 421h5v1h-5zM214 421h2v1h-2zM229 421h2v1h-2zM147 422h22v1h-22zM183 422h10v1h-10zM200 422h3v1h-3zM204 422h5v1h-5zM214 422h2v1h-2zM218 422h2v1h-2zM223 422h8v1h-8zM147 423h20v1h-20zM173 423h3v1h-3zM179 423h11v1h-11zM191 423h2v1h-2zM200 423h2v1h-2zM206 423h2v1h-2zM218 423h2v1h-2zM223 423h6v1h-6zM145 424h19v1h-19zM167 424h4v1h-4zM173 424h3v1h-3zM179 424h10v1h-10zM192 424h2v1h-2zM223 424h6v1h-6zM145 425h19v1h-19zM167 425h4v1h-4zM177 425h3v1h-3zM186 425h4v1h-4zM192 425h2v1h-2zM234 425h2v1h-2zM145 426h20v1h-20zM166 426h5v1h-5zM174 426h2v1h-2zM177 426h3v1h-3zM184 426h7v1h-7zM192 426h2v1h-2zM224 426h3v1h-3zM234 426h2v1h-2zM358 426h2v1h-2zM143 427h22v1h-22zM166 427h4v1h-4zM174 427h2v1h-2zM180 427h3v1h-3zM184 427h3v1h-3zM188 427h3v1h-3zM192 427h2v1h-2zM212 427h2v1h-2zM224 427h3v1h-3zM358 427h2v1h-2zM144 428h18v1h-18zM165 428h2v1h-2zM170 428h5v1h-5zM176 428h2v1h-2zM180 428h3v1h-3zM184 428h3v1h-3zM192 428h2v1h-2zM196 428h2v1h-2zM199 428h3v1h-3zM212 428h2v1h-2zM233 428h2v1h-2zM144 429h18v1h-18zM163 429h4v1h-4zM170 429h5v1h-5zM176 429h2v1h-2zM180 429h2v1h-2zM196 429h2v1h-2zM199 429h3v1h-3zM233 429h2v1h-2zM142 430h25v1h-25zM173 430h2v1h-2zM176 430h2v1h-2zM179 430h2v1h-2zM189 430h4v1h-4zM196 430h2v1h-2zM199 430h3v1h-3zM140 431h19v1h-19zM160 431h3v1h-3zM164 431h3v1h-3zM171 431h4v1h-4zM179 431h2v1h-2zM182 431h2v1h-2zM189 431h4v1h-4zM199 431h4v1h-4zM138 432h18v1h-18zM157 432h4v1h-4zM171 432h6v1h-6zM182 432h2v1h-2zM189 432h4v1h-4zM201 432h2v1h-2zM138 433h18v1h-18zM157 433h4v1h-4zM165 433h6v1h-6zM175 433h2v1h-2zM182 433h2v1h-2zM201 433h2v1h-2zM138 434h17v1h-17zM158 434h5v1h-5zM165 434h7v1h-7zM174 434h8v1h-8zM191 434h4v1h-4zM201 434h2v1h-2zM136 435h20v1h-20zM158 435h5v1h-5zM169 435h13v1h-13zM186 435h3v1h-3zM191 435h6v1h-6zM200 435h5v1h-5zM209 435h2v1h-2zM238 435h3v1h-3zM136 436h16v1h-16zM154 436h2v1h-2zM157 436h5v1h-5zM169 436h5v1h-5zM175 436h7v1h-7zM183 436h2v1h-2zM186 436h3v1h-3zM191 436h2v1h-2zM194 436h3v1h-3zM200 436h5v1h-5zM209 436h2v1h-2zM238 436h3v1h-3zM136 437h14v1h-14zM157 437h5v1h-5zM165 437h2v1h-2zM169 437h2v1h-2zM173 437h2v1h-2zM178 437h2v1h-2zM183 437h2v1h-2zM186 437h4v1h-4zM191 437h3v1h-3zM195 437h3v1h-3zM200 437h2v1h-2zM209 437h2v1h-2zM238 437h3v1h-3zM134 438h16v1h-16zM151 438h2v1h-2zM157 438h5v1h-5zM163 438h7v1h-7zM173 438h3v1h-3zM181 438h2v1h-2zM188 438h2v1h-2zM192 438h2v1h-2zM195 438h3v1h-3zM209 438h2v1h-2zM213 438h2v1h-2zM281 438h2v1h-2zM131 439h17v1h-17zM149 439h7v1h-7zM158 439h2v1h-2zM163 439h2v1h-2zM166 439h4v1h-4zM173 439h3v1h-3zM181 439h5v1h-5zM188 439h2v1h-2zM192 439h2v1h-2zM209 439h2v1h-2zM213 439h2v1h-2zM281 439h2v1h-2zM131 440h17v1h-17zM149 440h3v1h-3zM153 440h3v1h-3zM158 440h2v1h-2zM166 440h10v1h-10zM181 440h5v1h-5zM210 440h2v1h-2zM131 441h17v1h-17zM149 441h3v1h-3zM153 441h3v1h-3zM166 441h7v1h-7zM182 441h3v1h-3zM186 441h2v1h-2zM191 441h2v1h-2zM210 441h2v1h-2zM215 441h2v1h-2zM230 441h3v1h-3zM129 442h18v1h-18zM166 442h3v1h-3zM171 442h2v1h-2zM182 442h6v1h-6zM191 442h2v1h-2zM200 442h3v1h-3zM206 442h2v1h-2zM215 442h2v1h-2zM230 442h3v1h-3zM129 443h18v1h-18zM149 443h4v1h-4zM154 443h2v1h-2zM163 443h2v1h-2zM184 443h2v1h-2zM200 443h3v1h-3zM206 443h2v1h-2zM129 444h17v1h-17zM148 444h5v1h-5zM154 444h2v1h-2zM163 444h3v1h-3zM180 444h2v1h-2zM192 444h4v1h-4zM126 445h16v1h-16zM144 445h2v1h-2zM148 445h2v1h-2zM152 445h4v1h-4zM162 445h8v1h-8zM180 445h2v1h-2zM192 445h4v1h-4zM271 445h2v1h-2zM125 446h17v1h-17zM144 446h2v1h-2zM150 446h5v1h-5zM159 446h6v1h-6zM166 446h5v1h-5zM192 446h4v1h-4zM201 446h3v1h-3zM271 446h2v1h-2zM125 447h15v1h-15zM141 447h2v1h-2zM150 447h3v1h-3zM156 447h2v1h-2zM159 447h4v1h-4zM168 447h3v1h-3zM172 447h3v1h-3zM201 447h3v1h-3zM271 447h2v1h-2zM124 448h19v1h-19zM146 448h2v1h-2zM150 448h3v1h-3zM156 448h2v1h-2zM168 448h3v1h-3zM172 448h3v1h-3zM123 449h13v1h-13zM137 449h6v1h-6zM144 449h4v1h-4zM150 449h2v1h-2zM161 449h2v1h-2zM172 449h3v1h-3zM179 449h2v1h-2zM187 449h3v1h-3zM123 450h14v1h-14zM140 450h2v1h-2zM144 450h4v1h-4zM161 450h4v1h-4zM178 450h4v1h-4zM187 450h3v1h-3zM121 451h16v1h-16zM140 451h2v1h-2zM157 451h2v1h-2zM161 451h4v1h-4zM171 451h2v1h-2zM178 451h4v1h-4zM119 452h17v1h-17zM140 452h5v1h-5zM148 452h2v1h-2zM156 452h6v1h-6zM163 452h2v1h-2zM167 452h2v1h-2zM171 452h5v1h-5zM179 452h3v1h-3zM211 452h3v1h-3zM117 453h19v1h-19zM140 453h5v1h-5zM148 453h2v1h-2zM155 453h7v1h-7zM163 453h2v1h-2zM166 453h3v1h-3zM173 453h3v1h-3zM179 453h2v1h-2zM211 453h3v1h-3zM116 454h9v1h-9zM126 454h7v1h-7zM134 454h3v1h-3zM140 454h3v1h-3zM144 454h2v1h-2zM150 454h2v1h-2zM155 454h3v1h-3zM159 454h2v1h-2zM163 454h2v1h-2zM166 454h2v1h-2zM188 454h2v1h-2zM199 454h3v1h-3zM209 454h2v1h-2zM116 455h6v1h-6zM123 455h6v1h-6zM130 455h3v1h-3zM134 455h3v1h-3zM140 455h3v1h-3zM144 455h2v1h-2zM150 455h5v1h-5zM159 455h2v1h-2zM185 455h2v1h-2zM188 455h2v1h-2zM199 455h3v1h-3zM209 455h2v1h-2zM116 456h5v1h-5zM122 456h6v1h-6zM130 456h3v1h-3zM134 456h2v1h-2zM140 456h2v1h-2zM150 456h5v1h-5zM185 456h2v1h-2zM188 456h2v1h-2zM199 456h2v1h-2zM209 456h2v1h-2zM218 456h2v1h-2zM115 457h6v1h-6zM122 457h6v1h-6zM140 457h3v1h-3zM147 457h3v1h-3zM186 457h2v1h-2zM199 457h2v1h-2zM218 457h2v1h-2zM115 458h3v1h-3zM122 458h2v1h-2zM141 458h2v1h-2zM147 458h3v1h-3zM186 458h2v1h-2zM218 458h2v1h-2zM113 459h18v1h-18zM132 459h18v1h-18zM151 459h2v1h-2zM155 459h7v1h-7zM163 459h5v1h-5zM178 459h2v1h-2zM182 459h2v1h-2zM188 459h2v1h-2zM113 460h18v1h-18zM132 460h18v1h-18zM151 460h2v1h-2zM155 460h7v1h-7zM163 460h5v1h-5zM178 460h2v1h-2zM182 460h2v1h-2zM188 460h2v1h-2zM113 461h18v1h-18zM132 461h18v1h-18zM151 461h2v1h-2zM155 461h7v1h-7zM163 461h5v1h-5zM178 461h2v1h-2zM182 461h2v1h-2zM188 461h2v1h-2zM111 466h2v1h-2zM114 466h12v1h-12zM129 466h5v1h-5zM135 466h2v1h-2zM139 466h4v1h-4zM148 466h3v1h-3zM154 466h5v1h-5zM161 466h6v1h-6zM174 466h6v1h-6zM184 466h2v1h-2zM196 466h2v1h-2zM201 466h2v1h-2zM111 467h2v1h-2zM114 467h12v1h-12zM129 467h5v1h-5zM135 467h2v1h-2zM139 467h4v1h-4zM148 467h3v1h-3zM154 467h5v1h-5zM161 467h6v1h-6zM174 467h6v1h-6zM184 467h2v1h-2zM196 467h2v1h-2zM201 467h2v1h-2zM105 474h2v1h-2zM111 474h34v1h-34zM148 474h3v1h-3zM152 474h2v1h-2zM155 474h7v1h-7zM167 474h4v1h-4zM177 474h4v1h-4zM184 474h2v1h-2zM190 474h2v1h-2zM105 475h2v1h-2zM111 475h34v1h-34zM148 475h3v1h-3zM152 475h2v1h-2zM155 475h7v1h-7zM167 475h4v1h-4zM177 475h4v1h-4zM184 475h2v1h-2zM190 475h2v1h-2zM97 486h2v1h-2zM105 486h2v1h-2zM111 486h2v1h-2zM114 486h42v1h-42zM157 486h3v1h-3zM164 486h4v1h-4zM171 486h8v1h-8zM190 486h2v1h-2zM193 486h2v1h-2zM216 486h3v1h-3zM226 486h3v1h-3zM296 486h2v1h-2zM312 486h2v1h-2zM97 487h2v1h-2zM105 487h2v1h-2zM111 487h2v1h-2zM114 487h42v1h-42zM157 487h3v1h-3zM164 487h4v1h-4zM171 487h8v1h-8zM190 487h2v1h-2zM193 487h2v1h-2zM216 487h3v1h-3zM226 487h3v1h-3zM296 487h2v1h-2zM312 487h2v1h-2z"/>
<path fill="#000" d="M470 85h2v1h-2zM470 86h2v1h-2zM470 87h2v1h-2zM111 459h2v1h-2zM111 460h2v1h-2zM111 461h2v1h-2zM105 466h2v1h-2zM105 467h2v1h-2zM97 474h2v1h-2zM97 475h2v1h-2z"/>
<line x1="111.6" y1="461.0" x2="415.1" y2="149.9" stroke="#000" stroke-width="3.4"/>
<path d="M69.1 71.8 H492.6" stroke="#8a8a8a" stroke-width="2" fill="none"/>
<path d="M492.6 71.8 V505.8" stroke="#8a8a8a" stroke-width="2" fill="none"/>
<path d="M69.1 70.8 V505.8 H493.6" stroke="#333" stroke-width="2" fill="none"/>
<line x1="86.5" y1="505.8" x2="86.5" y2="512" stroke="#333" stroke-width="2"/>
<line x1="63" y1="486.8" x2="69.1" y2="486.8" stroke="#333" stroke-width="2"/>
<text x="85.7" y="529.3" font-size="20" text-anchor="middle" fill="#222">0</text>
<text transform="translate(54.8,486.5) rotate(-90)" font-size="20" text-anchor="middle" fill="#222">0</text>
<line x1="125.2" y1="505.8" x2="125.2" y2="512" stroke="#333" stroke-width="2"/>
<line x1="63" y1="447.2" x2="69.1" y2="447.2" stroke="#333" stroke-width="2"/>
<line x1="163.8" y1="505.8" x2="163.8" y2="512" stroke="#333" stroke-width="2"/>
<line x1="63" y1="407.5" x2="69.1" y2="407.5" stroke="#333" stroke-width="2"/>
<text x="160.9" y="529.3" font-size="20" text-anchor="middle" fill="#222">4</text>
<text transform="translate(54.8,406.8) rotate(-90)" font-size="20" text-anchor="middle" fill="#222">4</text>
<line x1="202.5" y1="505.8" x2="202.5" y2="512" stroke="#333" stroke-width="2"/>
<line x1="63" y1="367.9" x2="69.1" y2="367.9" stroke="#333" stroke-width="2"/>
<line x1="241.1" y1="505.8" x2="241.1" y2="512" stroke="#333" stroke-width="2"/>
<line x1="63" y1="328.2" x2="69.1" y2="328.2" stroke="#333" stroke-width="2"/>
<text x="240.9" y="529.3" font-size="20" text-anchor="middle" fill="#222">8</text>
<text transform="translate(54.8,325.6) rotate(-90)" font-size="20" text-anchor="middle" fill="#222">8</text>
<line x1="279.8" y1="505.8" x2="279.8" y2="512" stroke="#333" stroke-width="2"/>
<line x1="63" y1="288.6" x2="69.1" y2="288.6" stroke="#333" stroke-width="2"/>
<line x1="318.5" y1="505.8" x2="318.5" y2="512" stroke="#333" stroke-width="2"/>
<line x1="63" y1="249.0" x2="69.1" y2="249.0" stroke="#333" stroke-width="2"/>
<text x="315.5" y="529.3" font-size="20" text-anchor="middle" fill="#222">12</text>
<text transform="translate(54.8,251.1) rotate(-90)" font-size="20" text-anchor="middle" fill="#222">12</text>
<line x1="357.1" y1="505.8" x2="357.1" y2="512" stroke="#333" stroke-width="2"/>
<line x1="63" y1="209.3" x2="69.1" y2="209.3" stroke="#333" stroke-width="2"/>
<line x1="395.8" y1="505.8" x2="395.8" y2="512" stroke="#333" stroke-width="2"/>
<line x1="63" y1="169.7" x2="69.1" y2="169.7" stroke="#333" stroke-width="2"/>
<text x="396.0" y="529.3" font-size="20" text-anchor="middle" fill="#222">16</text>
<text transform="translate(54.8,171.1) rotate(-90)" font-size="20" text-anchor="middle" fill="#222">16</text>
<line x1="434.4" y1="505.8" x2="434.4" y2="512" stroke="#333" stroke-width="2"/>
<line x1="63" y1="130.0" x2="69.1" y2="130.0" stroke="#333" stroke-width="2"/>
<line x1="473.1" y1="505.8" x2="473.1" y2="512" stroke="#333" stroke-width="2"/>
<line x1="63" y1="90.4" x2="69.1" y2="90.4" stroke="#333" stroke-width="2"/>
<text x="468.9" y="529.3" font-size="20" text-anchor="middle" fill="#222">20</text>
<text transform="translate(54.8,96.0) rotate(-90)" font-size="20" text-anchor="middle" fill="#222">20</text>
<text x="270" y="562" font-size="24.5" text-anchor="middle" fill="#222">WT</text>
<text transform="translate(25.9,297.3) rotate(-90)" font-size="22.5" text-anchor="middle" fill="#222">&#916;<tspan font-style="italic">rax1</tspan></text>
<text x="98.5" y="128" font-size="25" font-weight="bold" textLength="89" lengthAdjust="spacingAndGlyphs" fill="#111">R=0.95</text>
</svg>
</body></html>
